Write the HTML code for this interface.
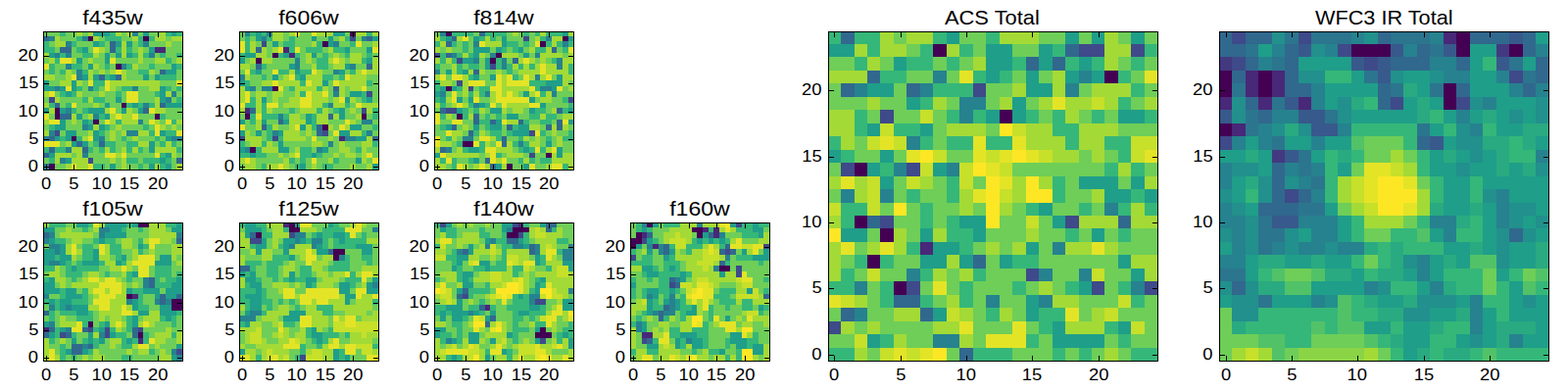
<!DOCTYPE html>
<html><head><meta charset="utf-8"><title>chart</title>
<style>html,body{margin:0;padding:0;background:#fff}svg{display:block}text{font-family:"Liberation Sans",sans-serif;fill:#000}</style>
</head><body><svg width="1600" height="400" viewBox="0 0 1600 400">
<rect width="1600" height="400" fill="#fff"/>
<clipPath id="c1"><rect x="44.5" y="32.5" width="142" height="141"/></clipPath><g clip-path="url(#c1)"><g transform="translate(44.2,30.95) scale(5.6760)" shape-rendering="crispEdges"><path fill="#440154" d="M8 1h1v1h-1zM18 1h1v1h-1zM13 6h1v1h-1zM14 13h1v1h-1zM2 14h1v1h-1zM2 15h1v1h-1zM20 15h1v1h-1zM9 16h1v1h-1zM5 19h1v1h-1zM1 24h1v1h-1z"/><path fill="#482878" d="M20 3h2v1h-2z"/><path fill="#3e4a89" d="M1 12h1v1h-1zM2 18h1v1h-1zM8 23h1v1h-1z"/><path fill="#31688e" d="M0 1h1v1h-1zM12 2h1v1h-1zM3 3h2v1h-2zM12 3h1v1h-1zM21 7h1v1h-1zM10 8h1v1h-1zM13 8h1v1h-1zM2 13h1v1h-1zM21 13h1v1h-1zM18 14h1v1h-1zM3 15h2v1h-2zM1 19h1v1h-1zM6 20h1v1h-1zM10 20h1v1h-1zM1 21h1v1h-1zM7 21h1v1h-1zM0 22h1v1h-1zM24 23h1v1h-1z"/><path fill="#26828e" d="M16 0h1v1h-1zM1 1h1v1h-1zM7 1h1v1h-1zM4 2h1v1h-1zM18 2h1v1h-1zM2 4h1v1h-1zM4 4h1v1h-1zM19 4h1v1h-1zM4 6h1v1h-1zM14 6h1v1h-1zM6 7h1v1h-1zM6 8h1v1h-1zM2 10h1v1h-1zM8 10h1v1h-1zM16 10h1v1h-1zM23 11h1v1h-1zM22 12h1v1h-1zM18 13h1v1h-1zM4 14h1v1h-1zM9 15h1v1h-1zM17 16h1v1h-1zM7 17h1v1h-1zM1 18h1v1h-1zM15 18h2v1h-2zM0 19h1v1h-1zM10 19h1v1h-1zM23 19h2v1h-2zM4 21h1v1h-1zM7 22h1v1h-1zM3 23h1v1h-1zM0 24h1v1h-1z"/><path fill="#1f9e89" d="M9 0h3v1h-3zM18 0h1v1h-1zM23 0h1v1h-1zM9 2h1v1h-1zM13 2h1v1h-1zM15 2h1v1h-1zM7 3h1v1h-1zM19 3h1v1h-1zM1 4h1v1h-1zM11 4h1v1h-1zM13 4h1v1h-1zM15 4h1v1h-1zM6 5h1v1h-1zM11 5h1v1h-1zM8 6h1v1h-1zM23 6h1v1h-1zM22 7h2v1h-2zM7 8h1v1h-1zM9 8h1v1h-1zM12 8h1v1h-1zM18 8h1v1h-1zM20 8h1v1h-1zM0 9h1v1h-1zM5 9h1v1h-1zM0 10h2v1h-2zM3 10h1v1h-1zM5 10h1v1h-1zM21 10h1v1h-1zM4 11h1v1h-1zM21 11h1v1h-1zM13 12h1v1h-1zM21 12h1v1h-1zM11 13h1v1h-1zM16 13h1v1h-1zM22 13h3v1h-3zM0 14h1v1h-1zM3 14h1v1h-1zM8 14h3v1h-3zM14 14h1v1h-1zM17 14h1v1h-1zM6 15h1v1h-1zM11 15h1v1h-1zM3 16h1v1h-1zM7 16h1v1h-1zM2 17h2v1h-2zM8 17h1v1h-1zM10 17h1v1h-1zM4 18h2v1h-2zM9 18h1v1h-1zM21 18h1v1h-1zM2 19h1v1h-1zM4 19h1v1h-1zM9 19h1v1h-1zM22 19h1v1h-1zM5 20h1v1h-1zM7 20h1v1h-1zM19 20h1v1h-1zM19 21h1v1h-1zM1 22h1v1h-1zM22 22h1v1h-1zM4 23h1v1h-1zM21 23h1v1h-1zM12 24h1v1h-1zM19 24h1v1h-1zM22 24h1v1h-1z"/><path fill="#35b779" d="M3 0h1v1h-1zM12 0h1v1h-1zM22 0h1v1h-1zM24 0h1v1h-1zM6 1h1v1h-1zM11 1h3v1h-3zM17 1h1v1h-1zM19 1h1v1h-1zM0 2h1v1h-1zM5 2h1v1h-1zM10 2h1v1h-1zM17 2h1v1h-1zM0 3h2v1h-2zM6 3h1v1h-1zM13 3h1v1h-1zM15 3h1v1h-1zM3 4h1v1h-1zM7 4h2v1h-2zM16 4h1v1h-1zM18 4h1v1h-1zM21 4h1v1h-1zM24 4h1v1h-1zM2 5h1v1h-1zM22 5h1v1h-1zM1 6h1v1h-1zM5 6h2v1h-2zM11 6h1v1h-1zM15 6h1v1h-1zM19 6h1v1h-1zM24 6h1v1h-1zM1 7h1v1h-1zM3 7h1v1h-1zM7 7h1v1h-1zM17 7h2v1h-2zM11 8h1v1h-1zM21 8h3v1h-3zM9 9h2v1h-2zM6 10h1v1h-1zM9 10h1v1h-1zM14 10h2v1h-2zM22 10h1v1h-1zM24 10h1v1h-1zM3 11h1v1h-1zM5 11h1v1h-1zM13 11h1v1h-1zM20 11h1v1h-1zM7 12h1v1h-1zM9 12h2v1h-2zM24 12h1v1h-1zM1 13h1v1h-1zM4 13h1v1h-1zM15 13h1v1h-1zM17 13h1v1h-1zM19 13h1v1h-1zM5 14h1v1h-1zM7 14h1v1h-1zM10 15h1v1h-1zM21 15h1v1h-1zM8 16h1v1h-1zM13 16h1v1h-1zM23 16h1v1h-1zM1 17h1v1h-1zM11 17h1v1h-1zM18 17h1v1h-1zM10 18h1v1h-1zM19 18h1v1h-1zM22 18h2v1h-2zM3 19h1v1h-1zM6 19h1v1h-1zM14 19h1v1h-1zM20 19h1v1h-1zM9 20h1v1h-1zM11 20h2v1h-2zM15 20h2v1h-2zM21 20h1v1h-1zM23 20h1v1h-1zM0 21h1v1h-1zM2 21h2v1h-2zM8 21h1v1h-1zM10 21h1v1h-1zM12 21h1v1h-1zM15 21h1v1h-1zM17 21h1v1h-1zM24 21h1v1h-1zM21 22h1v1h-1zM1 23h1v1h-1zM15 23h2v1h-2zM18 23h3v1h-3zM22 23h1v1h-1zM9 24h2v1h-2zM17 24h1v1h-1zM21 24h1v1h-1z"/><path fill="#6ece58" d="M0 0h3v1h-3zM4 0h2v1h-2zM7 0h1v1h-1zM14 0h1v1h-1zM17 0h1v1h-1zM19 0h2v1h-2zM3 1h3v1h-3zM10 1h1v1h-1zM14 1h2v1h-2zM22 1h1v1h-1zM1 2h1v1h-1zM6 2h3v1h-3zM11 2h1v1h-1zM16 2h1v1h-1zM19 2h3v1h-3zM23 2h2v1h-2zM2 3h1v1h-1zM5 3h1v1h-1zM8 3h1v1h-1zM11 3h1v1h-1zM16 3h1v1h-1zM18 3h1v1h-1zM22 3h3v1h-3zM5 4h2v1h-2zM10 4h1v1h-1zM12 4h1v1h-1zM20 4h1v1h-1zM22 4h2v1h-2zM0 5h1v1h-1zM7 5h1v1h-1zM9 5h2v1h-2zM13 5h4v1h-4zM18 5h2v1h-2zM23 5h1v1h-1zM2 6h2v1h-2zM7 6h1v1h-1zM10 6h1v1h-1zM12 6h1v1h-1zM17 6h2v1h-2zM20 6h3v1h-3zM0 7h1v1h-1zM2 7h1v1h-1zM5 7h1v1h-1zM9 7h1v1h-1zM11 7h1v1h-1zM15 7h2v1h-2zM20 7h1v1h-1zM24 7h1v1h-1zM2 8h2v1h-2zM15 8h3v1h-3zM19 8h1v1h-1zM24 8h1v1h-1zM1 9h2v1h-2zM7 9h1v1h-1zM21 9h3v1h-3zM7 10h1v1h-1zM10 10h1v1h-1zM13 10h1v1h-1zM17 10h2v1h-2zM23 10h1v1h-1zM2 11h1v1h-1zM7 11h3v1h-3zM11 11h2v1h-2zM14 11h1v1h-1zM17 11h3v1h-3zM24 11h1v1h-1zM0 12h1v1h-1zM3 12h4v1h-4zM11 12h2v1h-2zM14 12h1v1h-1zM17 12h3v1h-3zM23 12h1v1h-1zM3 13h1v1h-1zM6 13h3v1h-3zM10 13h1v1h-1zM12 13h2v1h-2zM6 14h1v1h-1zM13 14h1v1h-1zM16 14h1v1h-1zM22 14h3v1h-3zM1 15h1v1h-1zM7 15h1v1h-1zM17 15h3v1h-3zM22 15h3v1h-3zM4 16h1v1h-1zM6 16h1v1h-1zM10 16h1v1h-1zM18 16h1v1h-1zM21 16h1v1h-1zM0 17h1v1h-1zM4 17h3v1h-3zM12 17h1v1h-1zM14 17h4v1h-4zM19 17h1v1h-1zM22 17h1v1h-1zM24 17h1v1h-1zM3 18h1v1h-1zM6 18h2v1h-2zM11 18h1v1h-1zM13 18h1v1h-1zM11 19h1v1h-1zM13 19h1v1h-1zM15 19h1v1h-1zM17 19h3v1h-3zM21 19h1v1h-1zM3 20h1v1h-1zM8 20h1v1h-1zM13 20h2v1h-2zM20 20h1v1h-1zM24 20h1v1h-1zM9 21h1v1h-1zM13 21h1v1h-1zM18 21h1v1h-1zM5 22h1v1h-1zM8 22h3v1h-3zM15 22h5v1h-5zM24 22h1v1h-1zM0 23h1v1h-1zM9 23h3v1h-3zM13 23h1v1h-1zM17 23h1v1h-1zM23 23h1v1h-1zM2 24h2v1h-2zM11 24h1v1h-1zM13 24h1v1h-1zM15 24h2v1h-2zM18 24h1v1h-1zM23 24h1v1h-1z"/><path fill="#a3da36" d="M6 0h1v1h-1zM8 0h1v1h-1zM13 0h1v1h-1zM15 0h1v1h-1zM21 0h1v1h-1zM2 1h1v1h-1zM9 1h1v1h-1zM16 1h1v1h-1zM20 1h2v1h-2zM23 1h2v1h-2zM2 2h2v1h-2zM14 2h1v1h-1zM22 2h1v1h-1zM10 3h1v1h-1zM14 3h1v1h-1zM17 3h1v1h-1zM0 4h1v1h-1zM9 4h1v1h-1zM14 4h1v1h-1zM17 4h1v1h-1zM1 5h1v1h-1zM5 5h1v1h-1zM8 5h1v1h-1zM17 5h1v1h-1zM20 5h2v1h-2zM24 5h1v1h-1zM9 6h1v1h-1zM16 6h1v1h-1zM4 7h1v1h-1zM8 7h1v1h-1zM10 7h1v1h-1zM12 7h1v1h-1zM14 7h1v1h-1zM19 7h1v1h-1zM0 8h2v1h-2zM4 8h1v1h-1zM8 8h1v1h-1zM14 8h1v1h-1zM3 9h2v1h-2zM6 9h1v1h-1zM12 9h9v1h-9zM12 10h1v1h-1zM19 10h2v1h-2zM0 11h1v1h-1zM6 11h1v1h-1zM10 11h1v1h-1zM22 11h1v1h-1zM2 12h1v1h-1zM8 12h1v1h-1zM20 12h1v1h-1zM0 13h1v1h-1zM9 13h1v1h-1zM20 13h1v1h-1zM1 14h1v1h-1zM11 14h1v1h-1zM15 14h1v1h-1zM20 14h2v1h-2zM5 15h1v1h-1zM8 15h1v1h-1zM12 15h1v1h-1zM14 15h2v1h-2zM0 16h1v1h-1zM5 16h1v1h-1zM12 16h1v1h-1zM14 16h3v1h-3zM20 16h1v1h-1zM24 16h1v1h-1zM9 17h1v1h-1zM13 17h1v1h-1zM21 17h1v1h-1zM23 17h1v1h-1zM0 18h1v1h-1zM8 18h1v1h-1zM12 18h1v1h-1zM14 18h1v1h-1zM17 18h2v1h-2zM7 19h1v1h-1zM12 19h1v1h-1zM16 19h1v1h-1zM4 20h1v1h-1zM17 20h2v1h-2zM22 20h1v1h-1zM5 21h2v1h-2zM11 21h1v1h-1zM14 21h1v1h-1zM16 21h1v1h-1zM20 21h4v1h-4zM2 22h3v1h-3zM6 22h1v1h-1zM13 22h1v1h-1zM23 22h1v1h-1zM2 23h1v1h-1zM5 23h3v1h-3zM12 23h1v1h-1zM14 23h1v1h-1zM4 24h1v1h-1zM6 24h2v1h-2zM14 24h1v1h-1zM20 24h1v1h-1zM24 24h1v1h-1z"/><path fill="#e4e427" d="M9 3h1v1h-1zM3 5h2v1h-2zM12 5h1v1h-1zM0 6h1v1h-1zM13 7h1v1h-1zM5 8h1v1h-1zM8 9h1v1h-1zM11 9h1v1h-1zM24 9h1v1h-1zM4 10h1v1h-1zM11 10h1v1h-1zM1 11h1v1h-1zM15 11h2v1h-2zM15 12h2v1h-2zM5 13h1v1h-1zM12 14h1v1h-1zM19 14h1v1h-1zM0 15h1v1h-1zM13 15h1v1h-1zM16 15h1v1h-1zM1 16h2v1h-2zM11 16h1v1h-1zM19 16h1v1h-1zM22 16h1v1h-1zM20 17h1v1h-1zM20 18h1v1h-1zM24 18h1v1h-1zM8 19h1v1h-1zM0 20h3v1h-3zM11 22h2v1h-2zM14 22h1v1h-1zM20 22h1v1h-1zM5 24h1v1h-1zM8 24h1v1h-1z"/></g></g><path d="M47.5 173.5v-5.56M47.5 32.5v5.56M44.5 170.5h5.56M186.5 170.5h-5.56M75.5 173.5v-5.56M75.5 32.5v5.56M44.5 142.5h5.56M186.5 142.5h-5.56M104.5 173.5v-5.56M104.5 32.5v5.56M44.5 114.5h5.56M186.5 114.5h-5.56M132.5 173.5v-5.56M132.5 32.5v5.56M44.5 85.5h5.56M186.5 85.5h-5.56M161.5 173.5v-5.56M161.5 32.5v5.56M44.5 57.5h5.56M186.5 57.5h-5.56" stroke="#000" stroke-width="1" fill="none"/><rect x="44.5" y="32.5" width="142" height="141" fill="none" stroke="#000" stroke-width="1"/><text x="42.09" y="192.60" font-size="17.00" textLength="10.23" lengthAdjust="spacingAndGlyphs">0</text><text x="28.84" y="174.60" font-size="17.00" textLength="10.23" lengthAdjust="spacingAndGlyphs">0</text><text x="70.17" y="192.60" font-size="17.00" textLength="10.23" lengthAdjust="spacingAndGlyphs">5</text><text x="29.17" y="146.60" font-size="17.00" textLength="10.23" lengthAdjust="spacingAndGlyphs">5</text><text x="93.62" y="192.60" font-size="17.00" textLength="20.47" lengthAdjust="spacingAndGlyphs">10</text><text x="18.60" y="118.60" font-size="17.00" textLength="20.47" lengthAdjust="spacingAndGlyphs">10</text><text x="121.79" y="192.60" font-size="17.00" textLength="20.47" lengthAdjust="spacingAndGlyphs">15</text><text x="18.94" y="89.60" font-size="17.00" textLength="20.47" lengthAdjust="spacingAndGlyphs">15</text><text x="150.91" y="192.60" font-size="17.00" textLength="20.47" lengthAdjust="spacingAndGlyphs">20</text><text x="18.60" y="61.60" font-size="17.00" textLength="20.47" lengthAdjust="spacingAndGlyphs">20</text><text x="84.21" y="24.70" font-size="20.40" textLength="61.57" lengthAdjust="spacingAndGlyphs">f435w</text><clipPath id="c2"><rect x="244.5" y="32.5" width="142" height="141"/></clipPath><g clip-path="url(#c2)"><g transform="translate(243.87,30.95) scale(5.6760)" shape-rendering="crispEdges"><path fill="#440154" d="M20 0h1v1h-1zM15 2h1v1h-1zM6 4h1v1h-1zM3 5h1v1h-1zM6 10h1v1h-1zM1 15h1v1h-1zM22 15h1v1h-1zM15 17h1v1h-1zM2 21h1v1h-1z"/><path fill="#482878" d="M8 3h1v1h-1zM9 4h1v1h-1zM1 14h1v1h-1zM18 19h1v1h-1z"/><path fill="#3e4a89" d="M20 1h1v1h-1zM4 2h1v1h-1zM23 11h1v1h-1zM22 14h1v1h-1zM15 18h1v1h-1zM0 19h1v1h-1zM6 19h1v1h-1z"/><path fill="#31688e" d="M23 1h1v1h-1zM3 3h1v1h-1zM3 6h1v1h-1zM23 6h1v1h-1zM17 10h1v1h-1zM2 14h1v1h-1zM16 15h1v1h-1zM7 16h1v1h-1zM4 17h1v1h-1zM14 17h1v1h-1zM14 18h1v1h-1zM24 19h1v1h-1z"/><path fill="#26828e" d="M1 0h1v1h-1zM5 0h1v1h-1zM4 1h1v1h-1zM22 1h1v1h-1zM17 2h1v1h-1zM10 5h1v1h-1zM10 6h1v1h-1zM20 6h1v1h-1zM17 7h1v1h-1zM0 8h1v1h-1zM2 10h1v1h-1zM4 10h2v1h-2zM17 11h1v1h-1zM16 13h1v1h-1zM7 15h1v1h-1zM22 16h2v1h-2zM6 18h1v1h-1zM23 18h1v1h-1zM19 19h2v1h-2zM16 20h1v1h-1zM1 21h1v1h-1zM14 21h1v1h-1z"/><path fill="#1f9e89" d="M3 0h1v1h-1zM17 0h2v1h-2zM3 1h1v1h-1zM13 1h1v1h-1zM16 1h1v1h-1zM24 1h1v1h-1zM6 2h1v1h-1zM16 2h1v1h-1zM19 3h1v1h-1zM23 3h1v1h-1zM1 4h2v1h-2zM8 4h1v1h-1zM13 4h1v1h-1zM0 5h1v1h-1zM23 5h1v1h-1zM9 6h1v1h-1zM19 6h1v1h-1zM3 7h1v1h-1zM10 7h1v1h-1zM18 7h1v1h-1zM6 8h1v1h-1zM11 8h1v1h-1zM0 9h1v1h-1zM15 9h1v1h-1zM1 10h1v1h-1zM20 11h2v1h-2zM4 12h1v1h-1zM19 12h1v1h-1zM23 12h1v1h-1zM18 14h1v1h-1zM12 15h1v1h-1zM18 15h1v1h-1zM0 16h1v1h-1zM4 16h1v1h-1zM8 16h1v1h-1zM12 16h1v1h-1zM11 17h1v1h-1zM20 17h2v1h-2zM0 18h1v1h-1zM3 18h1v1h-1zM7 18h1v1h-1zM18 18h2v1h-2zM21 19h2v1h-2zM7 20h1v1h-1zM0 21h1v1h-1zM7 21h2v1h-2zM15 21h1v1h-1zM2 22h1v1h-1zM13 22h1v1h-1zM21 23h1v1h-1zM11 24h1v1h-1zM24 24h1v1h-1z"/><path fill="#35b779" d="M2 0h1v1h-1zM4 0h1v1h-1zM23 0h1v1h-1zM1 1h1v1h-1zM5 1h1v1h-1zM9 1h1v1h-1zM19 1h1v1h-1zM1 2h1v1h-1zM8 2h2v1h-2zM14 2h1v1h-1zM20 2h1v1h-1zM1 3h1v1h-1zM9 3h1v1h-1zM12 3h3v1h-3zM17 3h2v1h-2zM0 4h1v1h-1zM7 4h1v1h-1zM10 4h1v1h-1zM15 4h1v1h-1zM19 4h1v1h-1zM23 4h1v1h-1zM14 5h2v1h-2zM22 5h1v1h-1zM4 6h1v1h-1zM14 6h2v1h-2zM2 7h1v1h-1zM7 7h2v1h-2zM11 7h2v1h-2zM20 7h1v1h-1zM4 8h1v1h-1zM10 8h1v1h-1zM15 8h2v1h-2zM18 8h1v1h-1zM1 9h1v1h-1zM11 9h1v1h-1zM23 9h1v1h-1zM9 10h1v1h-1zM14 10h1v1h-1zM11 11h1v1h-1zM22 11h1v1h-1zM2 12h1v1h-1zM22 12h1v1h-1zM1 13h2v1h-2zM4 13h1v1h-1zM15 13h1v1h-1zM19 13h1v1h-1zM4 14h1v1h-1zM9 14h1v1h-1zM14 14h1v1h-1zM17 14h1v1h-1zM24 14h1v1h-1zM2 15h1v1h-1zM4 15h3v1h-3zM8 15h1v1h-1zM13 15h1v1h-1zM24 15h1v1h-1zM2 16h1v1h-1zM13 16h1v1h-1zM5 17h1v1h-1zM13 17h1v1h-1zM24 17h1v1h-1zM5 18h1v1h-1zM22 18h1v1h-1zM5 19h1v1h-1zM7 19h1v1h-1zM0 20h1v1h-1zM4 20h1v1h-1zM24 20h1v1h-1zM3 21h1v1h-1zM11 21h2v1h-2zM21 21h1v1h-1zM0 22h2v1h-2zM3 22h2v1h-2zM11 22h2v1h-2zM14 22h1v1h-1zM9 23h1v1h-1zM11 23h1v1h-1zM17 23h1v1h-1zM4 24h1v1h-1zM10 24h1v1h-1zM15 24h2v1h-2z"/><path fill="#6ece58" d="M0 0h1v1h-1zM8 0h1v1h-1zM11 0h2v1h-2zM19 0h1v1h-1zM0 1h1v1h-1zM2 1h1v1h-1zM8 1h1v1h-1zM10 1h3v1h-3zM14 1h2v1h-2zM17 1h1v1h-1zM21 1h1v1h-1zM3 2h1v1h-1zM5 2h1v1h-1zM7 2h1v1h-1zM10 2h3v1h-3zM18 2h2v1h-2zM22 2h2v1h-2zM5 3h1v1h-1zM11 3h1v1h-1zM15 3h1v1h-1zM20 3h3v1h-3zM5 4h1v1h-1zM11 4h1v1h-1zM14 4h1v1h-1zM16 4h1v1h-1zM18 4h1v1h-1zM22 4h1v1h-1zM24 4h1v1h-1zM1 5h1v1h-1zM6 5h4v1h-4zM11 5h1v1h-1zM13 5h1v1h-1zM19 5h1v1h-1zM2 6h1v1h-1zM5 6h4v1h-4zM11 6h2v1h-2zM16 6h1v1h-1zM21 6h2v1h-2zM0 7h1v1h-1zM4 7h2v1h-2zM15 7h2v1h-2zM19 7h1v1h-1zM2 8h2v1h-2zM5 8h1v1h-1zM7 8h1v1h-1zM17 8h1v1h-1zM23 8h2v1h-2zM2 9h2v1h-2zM16 9h1v1h-1zM24 9h1v1h-1zM3 10h1v1h-1zM8 10h1v1h-1zM16 10h1v1h-1zM19 10h1v1h-1zM23 10h2v1h-2zM2 11h1v1h-1zM5 11h1v1h-1zM8 11h2v1h-2zM16 11h1v1h-1zM19 11h1v1h-1zM24 11h1v1h-1zM5 12h1v1h-1zM7 12h2v1h-2zM16 12h1v1h-1zM21 12h1v1h-1zM24 12h1v1h-1zM7 13h1v1h-1zM20 13h1v1h-1zM6 14h3v1h-3zM10 14h1v1h-1zM16 14h1v1h-1zM19 14h1v1h-1zM21 14h1v1h-1zM0 15h1v1h-1zM11 15h1v1h-1zM19 15h2v1h-2zM23 15h1v1h-1zM1 16h1v1h-1zM5 16h2v1h-2zM16 16h3v1h-3zM21 16h1v1h-1zM24 16h1v1h-1zM1 17h2v1h-2zM7 17h2v1h-2zM17 17h1v1h-1zM22 17h2v1h-2zM2 18h1v1h-1zM4 18h1v1h-1zM11 18h1v1h-1zM13 18h1v1h-1zM16 18h1v1h-1zM24 18h1v1h-1zM4 19h1v1h-1zM12 19h1v1h-1zM14 19h2v1h-2zM17 19h1v1h-1zM1 20h1v1h-1zM6 20h1v1h-1zM8 20h5v1h-5zM15 20h1v1h-1zM17 20h1v1h-1zM19 20h3v1h-3zM9 21h1v1h-1zM13 21h1v1h-1zM16 21h2v1h-2zM20 21h1v1h-1zM23 21h2v1h-2zM5 22h2v1h-2zM8 22h1v1h-1zM15 22h2v1h-2zM18 22h1v1h-1zM21 22h1v1h-1zM24 22h1v1h-1zM3 23h5v1h-5zM10 23h1v1h-1zM12 23h1v1h-1zM14 23h2v1h-2zM18 23h3v1h-3zM23 23h1v1h-1zM0 24h1v1h-1zM3 24h1v1h-1zM9 24h1v1h-1zM12 24h1v1h-1zM14 24h1v1h-1zM17 24h3v1h-3zM21 24h2v1h-2z"/><path fill="#a3da36" d="M6 0h2v1h-2zM9 0h1v1h-1zM14 0h3v1h-3zM21 0h2v1h-2zM24 0h1v1h-1zM6 1h2v1h-2zM18 1h1v1h-1zM2 2h1v1h-1zM13 2h1v1h-1zM24 2h1v1h-1zM2 3h1v1h-1zM4 3h1v1h-1zM6 3h1v1h-1zM16 3h1v1h-1zM3 4h2v1h-2zM12 4h1v1h-1zM17 4h1v1h-1zM20 4h2v1h-2zM2 5h1v1h-1zM4 5h2v1h-2zM12 5h1v1h-1zM16 5h1v1h-1zM18 5h1v1h-1zM20 5h2v1h-2zM24 5h1v1h-1zM0 6h2v1h-2zM13 6h1v1h-1zM17 6h2v1h-2zM24 6h1v1h-1zM9 7h1v1h-1zM14 7h1v1h-1zM21 7h1v1h-1zM23 7h2v1h-2zM1 8h1v1h-1zM8 8h1v1h-1zM12 8h3v1h-3zM20 8h3v1h-3zM4 9h2v1h-2zM7 9h4v1h-4zM13 9h2v1h-2zM18 9h5v1h-5zM0 10h1v1h-1zM10 10h4v1h-4zM15 10h1v1h-1zM18 10h1v1h-1zM20 10h2v1h-2zM0 11h1v1h-1zM3 11h2v1h-2zM6 11h2v1h-2zM10 11h1v1h-1zM13 11h2v1h-2zM18 11h1v1h-1zM0 12h1v1h-1zM3 12h1v1h-1zM6 12h1v1h-1zM9 12h2v1h-2zM13 12h3v1h-3zM17 12h1v1h-1zM20 12h1v1h-1zM3 13h1v1h-1zM8 13h3v1h-3zM13 13h2v1h-2zM17 13h2v1h-2zM22 13h3v1h-3zM0 14h1v1h-1zM3 14h1v1h-1zM5 14h1v1h-1zM11 14h3v1h-3zM15 14h1v1h-1zM20 14h1v1h-1zM23 14h1v1h-1zM9 15h2v1h-2zM14 15h2v1h-2zM17 15h1v1h-1zM21 15h1v1h-1zM3 16h1v1h-1zM9 16h3v1h-3zM14 16h2v1h-2zM20 16h1v1h-1zM3 17h1v1h-1zM6 17h1v1h-1zM9 17h1v1h-1zM12 17h1v1h-1zM16 17h1v1h-1zM19 17h1v1h-1zM1 18h1v1h-1zM8 18h3v1h-3zM12 18h1v1h-1zM20 18h2v1h-2zM1 19h3v1h-3zM8 19h4v1h-4zM16 19h1v1h-1zM23 19h1v1h-1zM2 20h2v1h-2zM5 20h1v1h-1zM13 20h2v1h-2zM18 20h1v1h-1zM22 20h2v1h-2zM4 21h3v1h-3zM10 21h1v1h-1zM18 21h2v1h-2zM22 21h1v1h-1zM7 22h1v1h-1zM9 22h1v1h-1zM17 22h1v1h-1zM19 22h2v1h-2zM22 22h1v1h-1zM0 23h1v1h-1zM2 23h1v1h-1zM8 23h1v1h-1zM16 23h1v1h-1zM22 23h1v1h-1zM1 24h2v1h-2zM5 24h2v1h-2zM8 24h1v1h-1zM13 24h1v1h-1zM20 24h1v1h-1zM23 24h1v1h-1z"/><path fill="#e4e427" d="M10 0h1v1h-1zM13 0h1v1h-1zM0 2h1v1h-1zM21 2h1v1h-1zM0 3h1v1h-1zM7 3h1v1h-1zM10 3h1v1h-1zM24 3h1v1h-1zM17 5h1v1h-1zM1 7h1v1h-1zM6 7h1v1h-1zM13 7h1v1h-1zM22 7h1v1h-1zM9 8h1v1h-1zM19 8h1v1h-1zM6 9h1v1h-1zM12 9h1v1h-1zM17 9h1v1h-1zM7 10h1v1h-1zM22 10h1v1h-1zM1 11h1v1h-1zM12 11h1v1h-1zM15 11h1v1h-1zM1 12h1v1h-1zM11 12h2v1h-2zM18 12h1v1h-1zM0 13h1v1h-1zM5 13h2v1h-2zM11 13h2v1h-2zM21 13h1v1h-1zM3 15h1v1h-1zM19 16h1v1h-1zM0 17h1v1h-1zM10 17h1v1h-1zM18 17h1v1h-1zM17 18h1v1h-1zM13 19h1v1h-1zM10 22h1v1h-1zM23 22h1v1h-1zM1 23h1v1h-1zM13 23h1v1h-1zM24 23h1v1h-1zM7 24h1v1h-1z"/></g></g><path d="M247.5 173.5v-5.56M247.5 32.5v5.56M244.5 170.5h5.56M386.5 170.5h-5.56M275.5 173.5v-5.56M275.5 32.5v5.56M244.5 142.5h5.56M386.5 142.5h-5.56M303.5 173.5v-5.56M303.5 32.5v5.56M244.5 114.5h5.56M386.5 114.5h-5.56M332.5 173.5v-5.56M332.5 32.5v5.56M244.5 85.5h5.56M386.5 85.5h-5.56M360.5 173.5v-5.56M360.5 32.5v5.56M244.5 57.5h5.56M386.5 57.5h-5.56" stroke="#000" stroke-width="1" fill="none"/><rect x="244.5" y="32.5" width="142" height="141" fill="none" stroke="#000" stroke-width="1"/><text x="242.09" y="192.60" font-size="17.00" textLength="10.23" lengthAdjust="spacingAndGlyphs">0</text><text x="228.84" y="174.60" font-size="17.00" textLength="10.23" lengthAdjust="spacingAndGlyphs">0</text><text x="270.17" y="192.60" font-size="17.00" textLength="10.23" lengthAdjust="spacingAndGlyphs">5</text><text x="229.17" y="146.60" font-size="17.00" textLength="10.23" lengthAdjust="spacingAndGlyphs">5</text><text x="292.62" y="192.60" font-size="17.00" textLength="20.47" lengthAdjust="spacingAndGlyphs">10</text><text x="218.60" y="118.60" font-size="17.00" textLength="20.47" lengthAdjust="spacingAndGlyphs">10</text><text x="321.79" y="192.60" font-size="17.00" textLength="20.47" lengthAdjust="spacingAndGlyphs">15</text><text x="218.94" y="89.60" font-size="17.00" textLength="20.47" lengthAdjust="spacingAndGlyphs">15</text><text x="349.91" y="192.60" font-size="17.00" textLength="20.47" lengthAdjust="spacingAndGlyphs">20</text><text x="218.60" y="61.60" font-size="17.00" textLength="20.47" lengthAdjust="spacingAndGlyphs">20</text><text x="284.21" y="24.70" font-size="20.40" textLength="61.57" lengthAdjust="spacingAndGlyphs">f606w</text><clipPath id="c3"><rect x="443.5" y="32.5" width="142" height="141"/></clipPath><g clip-path="url(#c3)"><g transform="translate(443.53999999999996,30.95) scale(5.6760)" shape-rendering="crispEdges"><path fill="#440154" d="M2 0h1v1h-1zM23 1h1v1h-1zM19 2h1v1h-1zM11 4h1v1h-1zM10 5h1v1h-1zM2 10h1v1h-1zM4 15h1v1h-1zM5 20h2v1h-2zM20 22h1v1h-1zM13 24h1v1h-1z"/><path fill="#3e4a89" d="M16 1h1v1h-1zM0 4h1v1h-1zM4 5h1v1h-1zM10 6h1v1h-1zM4 9h1v1h-1zM6 10h1v1h-1zM24 12h1v1h-1zM2 14h2v1h-2zM17 18h1v1h-1zM17 22h1v1h-1z"/><path fill="#31688e" d="M8 0h1v1h-1zM3 1h1v1h-1zM2 2h1v1h-1zM21 3h1v1h-1zM2 4h1v1h-1zM14 5h1v1h-1zM7 7h1v1h-1zM1 14h1v1h-1zM22 14h1v1h-1zM7 15h1v1h-1zM7 16h1v1h-1zM10 16h1v1h-1zM15 16h1v1h-1zM22 16h1v1h-1zM3 17h1v1h-1zM13 17h1v1h-1zM20 17h1v1h-1zM22 17h1v1h-1zM6 18h1v1h-1zM12 19h1v1h-1zM12 20h1v1h-1zM1 21h1v1h-1zM9 23h1v1h-1zM10 24h1v1h-1z"/><path fill="#26828e" d="M1 0h1v1h-1zM20 1h1v1h-1zM7 2h1v1h-1zM23 2h1v1h-1zM3 4h1v1h-1zM10 4h1v1h-1zM18 4h1v1h-1zM7 5h1v1h-1zM12 5h1v1h-1zM22 5h1v1h-1zM12 6h1v1h-1zM22 6h1v1h-1zM0 7h1v1h-1zM18 8h1v1h-1zM19 10h2v1h-2zM1 11h1v1h-1zM9 11h1v1h-1zM21 11h1v1h-1zM7 13h1v1h-1zM5 19h2v1h-2zM15 20h1v1h-1zM2 21h1v1h-1z"/><path fill="#1f9e89" d="M23 0h1v1h-1zM2 1h1v1h-1zM7 1h1v1h-1zM12 1h1v1h-1zM24 1h1v1h-1zM12 2h1v1h-1zM7 3h3v1h-3zM11 3h1v1h-1zM15 3h1v1h-1zM7 4h1v1h-1zM16 4h1v1h-1zM5 5h2v1h-2zM9 5h1v1h-1zM9 6h1v1h-1zM2 7h1v1h-1zM5 7h1v1h-1zM7 8h1v1h-1zM10 8h1v1h-1zM22 8h1v1h-1zM20 9h3v1h-3zM1 10h1v1h-1zM3 10h1v1h-1zM21 10h1v1h-1zM0 11h1v1h-1zM16 11h1v1h-1zM1 12h1v1h-1zM4 12h1v1h-1zM6 12h1v1h-1zM17 12h1v1h-1zM8 13h1v1h-1zM19 13h1v1h-1zM4 14h1v1h-1zM10 14h2v1h-2zM17 14h1v1h-1zM24 14h1v1h-1zM13 15h2v1h-2zM11 16h1v1h-1zM24 16h1v1h-1zM2 17h1v1h-1zM7 17h1v1h-1zM10 17h2v1h-2zM15 17h2v1h-2zM14 18h3v1h-3zM20 20h1v1h-1zM6 21h2v1h-2zM16 21h1v1h-1zM22 21h1v1h-1zM0 22h1v1h-1zM22 22h1v1h-1zM7 23h1v1h-1zM11 24h1v1h-1zM16 24h1v1h-1z"/><path fill="#35b779" d="M3 0h4v1h-4zM9 0h4v1h-4zM16 0h1v1h-1zM18 0h1v1h-1zM20 0h3v1h-3zM1 1h1v1h-1zM8 1h1v1h-1zM10 1h1v1h-1zM19 1h1v1h-1zM0 2h1v1h-1zM3 2h1v1h-1zM5 2h1v1h-1zM13 2h2v1h-2zM16 2h1v1h-1zM20 2h1v1h-1zM22 2h1v1h-1zM24 2h1v1h-1zM5 3h1v1h-1zM12 3h1v1h-1zM14 3h1v1h-1zM18 3h2v1h-2zM23 3h1v1h-1zM1 4h1v1h-1zM4 4h1v1h-1zM6 4h1v1h-1zM1 5h1v1h-1zM3 5h1v1h-1zM11 5h1v1h-1zM21 5h1v1h-1zM0 6h1v1h-1zM4 6h1v1h-1zM6 6h2v1h-2zM11 6h1v1h-1zM13 6h1v1h-1zM15 6h1v1h-1zM17 6h1v1h-1zM24 6h1v1h-1zM4 7h1v1h-1zM13 7h1v1h-1zM24 7h1v1h-1zM6 8h1v1h-1zM14 8h1v1h-1zM0 9h1v1h-1zM17 9h3v1h-3zM0 10h1v1h-1zM4 10h1v1h-1zM8 10h2v1h-2zM18 10h1v1h-1zM6 11h1v1h-1zM8 11h1v1h-1zM19 11h1v1h-1zM0 12h1v1h-1zM23 12h1v1h-1zM1 13h1v1h-1zM6 13h1v1h-1zM9 13h1v1h-1zM24 13h1v1h-1zM5 14h1v1h-1zM7 14h1v1h-1zM18 14h2v1h-2zM23 14h1v1h-1zM1 15h1v1h-1zM5 15h1v1h-1zM9 15h1v1h-1zM11 15h1v1h-1zM17 15h2v1h-2zM20 15h2v1h-2zM8 16h2v1h-2zM16 16h1v1h-1zM19 16h2v1h-2zM1 17h1v1h-1zM9 17h1v1h-1zM14 17h1v1h-1zM7 18h1v1h-1zM10 18h2v1h-2zM13 18h1v1h-1zM19 18h1v1h-1zM24 18h1v1h-1zM2 19h1v1h-1zM11 19h1v1h-1zM15 19h1v1h-1zM20 19h1v1h-1zM23 19h2v1h-2zM4 20h1v1h-1zM8 20h1v1h-1zM14 20h1v1h-1zM16 20h1v1h-1zM5 21h1v1h-1zM8 21h1v1h-1zM15 21h1v1h-1zM17 21h1v1h-1zM19 21h1v1h-1zM11 22h1v1h-1zM1 23h1v1h-1zM3 23h1v1h-1zM6 23h1v1h-1zM15 23h1v1h-1zM17 23h1v1h-1zM19 23h2v1h-2zM3 24h1v1h-1zM23 24h1v1h-1z"/><path fill="#6ece58" d="M0 0h1v1h-1zM7 0h1v1h-1zM13 0h1v1h-1zM15 0h1v1h-1zM17 0h1v1h-1zM6 1h1v1h-1zM11 1h1v1h-1zM13 1h3v1h-3zM17 1h1v1h-1zM4 2h1v1h-1zM6 2h1v1h-1zM15 2h1v1h-1zM17 2h1v1h-1zM1 3h1v1h-1zM3 3h2v1h-2zM6 3h1v1h-1zM10 3h1v1h-1zM13 3h1v1h-1zM16 3h1v1h-1zM22 3h1v1h-1zM9 4h1v1h-1zM15 4h1v1h-1zM17 4h1v1h-1zM23 4h1v1h-1zM8 5h1v1h-1zM13 5h1v1h-1zM18 5h1v1h-1zM20 5h1v1h-1zM1 6h2v1h-2zM5 6h1v1h-1zM8 6h1v1h-1zM1 7h1v1h-1zM9 7h2v1h-2zM12 7h1v1h-1zM14 7h1v1h-1zM2 8h1v1h-1zM8 8h2v1h-2zM15 8h1v1h-1zM21 8h1v1h-1zM3 9h1v1h-1zM9 9h2v1h-2zM24 9h1v1h-1zM7 10h1v1h-1zM23 10h1v1h-1zM2 11h1v1h-1zM4 11h1v1h-1zM15 11h1v1h-1zM22 11h3v1h-3zM5 12h1v1h-1zM8 12h2v1h-2zM18 12h1v1h-1zM21 12h2v1h-2zM2 13h1v1h-1zM11 13h1v1h-1zM20 13h4v1h-4zM0 14h1v1h-1zM6 14h1v1h-1zM9 14h1v1h-1zM13 14h1v1h-1zM16 14h1v1h-1zM20 14h1v1h-1zM3 15h1v1h-1zM8 15h1v1h-1zM10 15h1v1h-1zM12 15h1v1h-1zM15 15h2v1h-2zM22 15h1v1h-1zM1 16h2v1h-2zM5 16h2v1h-2zM17 16h2v1h-2zM21 16h1v1h-1zM0 17h1v1h-1zM4 17h1v1h-1zM6 17h1v1h-1zM8 17h1v1h-1zM12 17h1v1h-1zM19 17h1v1h-1zM24 17h1v1h-1zM0 18h2v1h-2zM5 18h1v1h-1zM9 18h1v1h-1zM12 18h1v1h-1zM20 18h1v1h-1zM22 18h2v1h-2zM1 19h1v1h-1zM4 19h1v1h-1zM7 19h1v1h-1zM13 19h2v1h-2zM17 19h1v1h-1zM19 19h1v1h-1zM21 19h1v1h-1zM3 20h1v1h-1zM10 20h1v1h-1zM19 20h1v1h-1zM21 20h1v1h-1zM23 20h2v1h-2zM3 21h1v1h-1zM14 21h1v1h-1zM23 21h2v1h-2zM8 22h1v1h-1zM12 22h1v1h-1zM16 22h1v1h-1zM18 22h2v1h-2zM4 23h2v1h-2zM8 23h1v1h-1zM13 23h2v1h-2zM18 23h1v1h-1zM2 24h1v1h-1zM6 24h1v1h-1zM14 24h2v1h-2zM18 24h2v1h-2z"/><path fill="#a3da36" d="M14 0h1v1h-1zM19 0h1v1h-1zM24 0h1v1h-1zM0 1h1v1h-1zM4 1h1v1h-1zM9 1h1v1h-1zM18 1h1v1h-1zM21 1h2v1h-2zM1 2h1v1h-1zM9 2h3v1h-3zM21 2h1v1h-1zM0 3h1v1h-1zM2 3h1v1h-1zM17 3h1v1h-1zM20 3h1v1h-1zM5 4h1v1h-1zM8 4h1v1h-1zM12 4h3v1h-3zM19 4h4v1h-4zM24 4h1v1h-1zM0 5h1v1h-1zM2 5h1v1h-1zM15 5h1v1h-1zM17 5h1v1h-1zM19 5h1v1h-1zM23 5h2v1h-2zM3 6h1v1h-1zM14 6h1v1h-1zM16 6h1v1h-1zM18 6h1v1h-1zM20 6h2v1h-2zM23 6h1v1h-1zM3 7h1v1h-1zM6 7h1v1h-1zM8 7h1v1h-1zM11 7h1v1h-1zM15 7h4v1h-4zM20 7h4v1h-4zM0 8h1v1h-1zM5 8h1v1h-1zM12 8h1v1h-1zM17 8h1v1h-1zM19 8h1v1h-1zM23 8h2v1h-2zM1 9h2v1h-2zM5 9h1v1h-1zM12 9h1v1h-1zM23 9h1v1h-1zM5 10h1v1h-1zM12 10h5v1h-5zM24 10h1v1h-1zM5 11h1v1h-1zM7 11h1v1h-1zM10 11h1v1h-1zM12 11h1v1h-1zM14 11h1v1h-1zM17 11h1v1h-1zM20 11h1v1h-1zM2 12h1v1h-1zM10 12h1v1h-1zM19 12h2v1h-2zM0 13h1v1h-1zM3 13h1v1h-1zM5 13h1v1h-1zM13 13h4v1h-4zM8 14h1v1h-1zM12 14h1v1h-1zM14 14h2v1h-2zM21 14h1v1h-1zM2 15h1v1h-1zM6 15h1v1h-1zM19 15h1v1h-1zM23 15h2v1h-2zM13 16h2v1h-2zM5 17h1v1h-1zM17 17h2v1h-2zM21 17h1v1h-1zM23 17h1v1h-1zM3 18h2v1h-2zM8 18h1v1h-1zM21 18h1v1h-1zM3 19h1v1h-1zM10 19h1v1h-1zM16 19h1v1h-1zM18 19h1v1h-1zM22 19h1v1h-1zM1 20h2v1h-2zM9 20h1v1h-1zM13 20h1v1h-1zM17 20h2v1h-2zM22 20h1v1h-1zM0 21h1v1h-1zM4 21h1v1h-1zM11 21h3v1h-3zM20 21h1v1h-1zM2 22h6v1h-6zM9 22h1v1h-1zM13 22h3v1h-3zM21 22h1v1h-1zM23 22h2v1h-2zM0 23h1v1h-1zM11 23h1v1h-1zM16 23h1v1h-1zM21 23h4v1h-4zM0 24h2v1h-2zM5 24h1v1h-1zM7 24h1v1h-1zM9 24h1v1h-1zM12 24h1v1h-1zM20 24h1v1h-1zM24 24h1v1h-1z"/><path fill="#e4e427" d="M5 1h1v1h-1zM8 2h1v1h-1zM18 2h1v1h-1zM24 3h1v1h-1zM16 5h1v1h-1zM19 6h1v1h-1zM19 7h1v1h-1zM1 8h1v1h-1zM3 8h2v1h-2zM11 8h1v1h-1zM13 8h1v1h-1zM16 8h1v1h-1zM20 8h1v1h-1zM6 9h3v1h-3zM11 9h1v1h-1zM13 9h4v1h-4zM10 10h2v1h-2zM17 10h1v1h-1zM22 10h1v1h-1zM3 11h1v1h-1zM11 11h1v1h-1zM13 11h1v1h-1zM18 11h1v1h-1zM3 12h1v1h-1zM7 12h1v1h-1zM11 12h6v1h-6zM4 13h1v1h-1zM10 13h1v1h-1zM12 13h1v1h-1zM17 13h2v1h-2zM0 15h1v1h-1zM0 16h1v1h-1zM3 16h2v1h-2zM12 16h1v1h-1zM23 16h1v1h-1zM2 18h1v1h-1zM18 18h1v1h-1zM0 19h1v1h-1zM8 19h2v1h-2zM0 20h1v1h-1zM7 20h1v1h-1zM11 20h1v1h-1zM9 21h2v1h-2zM18 21h1v1h-1zM21 21h1v1h-1zM1 22h1v1h-1zM10 22h1v1h-1zM2 23h1v1h-1zM10 23h1v1h-1zM12 23h1v1h-1zM4 24h1v1h-1zM8 24h1v1h-1zM17 24h1v1h-1zM21 24h2v1h-2z"/></g></g><path d="M446.5 173.5v-5.56M446.5 32.5v5.56M443.5 170.5h5.56M585.5 170.5h-5.56M475.5 173.5v-5.56M475.5 32.5v5.56M443.5 142.5h5.56M585.5 142.5h-5.56M503.5 173.5v-5.56M503.5 32.5v5.56M443.5 114.5h5.56M585.5 114.5h-5.56M532.5 173.5v-5.56M532.5 32.5v5.56M443.5 85.5h5.56M585.5 85.5h-5.56M560.5 173.5v-5.56M560.5 32.5v5.56M443.5 57.5h5.56M585.5 57.5h-5.56" stroke="#000" stroke-width="1" fill="none"/><rect x="443.5" y="32.5" width="142" height="141" fill="none" stroke="#000" stroke-width="1"/><text x="441.09" y="192.60" font-size="17.00" textLength="10.23" lengthAdjust="spacingAndGlyphs">0</text><text x="427.84" y="174.60" font-size="17.00" textLength="10.23" lengthAdjust="spacingAndGlyphs">0</text><text x="470.17" y="192.60" font-size="17.00" textLength="10.23" lengthAdjust="spacingAndGlyphs">5</text><text x="428.17" y="146.60" font-size="17.00" textLength="10.23" lengthAdjust="spacingAndGlyphs">5</text><text x="492.62" y="192.60" font-size="17.00" textLength="20.47" lengthAdjust="spacingAndGlyphs">10</text><text x="417.60" y="118.60" font-size="17.00" textLength="20.47" lengthAdjust="spacingAndGlyphs">10</text><text x="521.79" y="192.60" font-size="17.00" textLength="20.47" lengthAdjust="spacingAndGlyphs">15</text><text x="417.94" y="89.60" font-size="17.00" textLength="20.47" lengthAdjust="spacingAndGlyphs">15</text><text x="549.91" y="192.60" font-size="17.00" textLength="20.47" lengthAdjust="spacingAndGlyphs">20</text><text x="417.60" y="61.60" font-size="17.00" textLength="20.47" lengthAdjust="spacingAndGlyphs">20</text><text x="483.21" y="24.70" font-size="20.40" textLength="61.57" lengthAdjust="spacingAndGlyphs">f814w</text><clipPath id="c4"><rect x="44.5" y="227.5" width="142" height="141"/></clipPath><g clip-path="url(#c4)"><g transform="translate(44.2,225.95) scale(5.6760)" shape-rendering="crispEdges"><path fill="#440154" d="M17 0h2v1h-2zM15 13h1v1h-1zM23 14h2v1h-2zM23 15h2v1h-2zM8 18h1v1h-1zM17 20h1v1h-1z"/><path fill="#482878" d="M16 13h1v1h-1zM0 19h1v1h-1zM17 21h1v1h-1z"/><path fill="#3e4a89" d="M8 19h1v1h-1zM11 19h1v1h-1zM17 19h1v1h-1zM3 20h1v1h-1zM11 20h1v1h-1zM24 23h1v1h-1z"/><path fill="#31688e" d="M0 2h1v1h-1zM24 3h1v1h-1zM19 10h1v1h-1zM19 11h1v1h-1zM21 13h1v1h-1zM24 13h1v1h-1zM21 14h1v1h-1zM0 16h1v1h-1zM1 19h1v1h-1zM7 19h1v1h-1zM16 19h1v1h-1zM0 20h1v1h-1zM4 20h1v1h-1zM16 20h1v1h-1zM5 22h2v1h-2zM8 22h1v1h-1zM5 23h2v1h-2z"/><path fill="#26828e" d="M10 1h2v1h-2zM1 2h1v1h-1zM10 2h1v1h-1zM24 2h1v1h-1zM0 3h1v1h-1zM1 4h2v1h-2zM2 5h1v1h-1zM1 7h2v1h-2zM18 10h1v1h-1zM18 11h1v1h-1zM0 13h1v1h-1zM15 14h1v1h-1zM20 14h1v1h-1zM22 14h1v1h-1zM1 15h1v1h-1zM4 15h1v1h-1zM1 18h1v1h-1zM4 19h1v1h-1zM10 20h1v1h-1zM7 22h1v1h-1zM23 23h1v1h-1zM24 24h1v1h-1z"/><path fill="#1f9e89" d="M6 0h2v1h-2zM11 0h4v1h-4zM16 0h1v1h-1zM24 0h1v1h-1zM0 1h2v1h-2zM12 1h2v1h-2zM23 1h2v1h-2zM11 2h4v1h-4zM1 3h1v1h-1zM10 3h1v1h-1zM3 4h1v1h-1zM17 4h1v1h-1zM0 5h2v1h-2zM3 5h1v1h-1zM9 5h1v1h-1zM0 6h2v1h-2zM3 6h2v1h-2zM9 6h1v1h-1zM14 6h1v1h-1zM21 6h2v1h-2zM0 7h1v1h-1zM3 7h1v1h-1zM7 7h3v1h-3zM13 7h1v1h-1zM20 7h3v1h-3zM5 8h1v1h-1zM16 9h1v1h-1zM1 10h1v1h-1zM24 10h1v1h-1zM0 11h2v1h-2zM23 11h2v1h-2zM0 12h3v1h-3zM4 12h2v1h-2zM15 12h1v1h-1zM18 12h3v1h-3zM22 12h3v1h-3zM4 13h3v1h-3zM20 13h1v1h-1zM22 13h2v1h-2zM1 14h1v1h-1zM3 14h2v1h-2zM16 14h1v1h-1zM3 15h1v1h-1zM5 15h3v1h-3zM16 15h1v1h-1zM21 15h2v1h-2zM6 16h2v1h-2zM17 16h2v1h-2zM21 16h3v1h-3zM16 17h1v1h-1zM22 17h1v1h-1zM0 18h1v1h-1zM11 18h1v1h-1zM16 18h1v1h-1zM3 19h1v1h-1zM10 19h1v1h-1zM1 20h1v1h-1zM8 20h1v1h-1zM12 20h1v1h-1zM5 21h1v1h-1zM8 21h1v1h-1zM10 21h1v1h-1zM15 21h1v1h-1zM24 22h1v1h-1zM4 23h1v1h-1zM7 23h1v1h-1zM23 24h1v1h-1z"/><path fill="#35b779" d="M1 0h3v1h-3zM8 0h1v1h-1zM15 0h1v1h-1zM22 0h2v1h-2zM7 1h1v1h-1zM14 1h1v1h-1zM17 1h1v1h-1zM2 3h2v1h-2zM9 3h1v1h-1zM11 3h2v1h-2zM17 3h1v1h-1zM7 4h2v1h-2zM12 4h2v1h-2zM18 4h1v1h-1zM7 5h2v1h-2zM12 5h2v1h-2zM17 5h1v1h-1zM2 6h1v1h-1zM7 6h2v1h-2zM13 6h1v1h-1zM4 7h1v1h-1zM6 7h1v1h-1zM10 7h1v1h-1zM14 7h1v1h-1zM0 8h2v1h-2zM4 8h1v1h-1zM6 8h4v1h-4zM20 8h3v1h-3zM4 9h3v1h-3zM11 9h1v1h-1zM15 9h1v1h-1zM20 9h3v1h-3zM24 9h1v1h-1zM0 10h1v1h-1zM5 10h1v1h-1zM15 10h1v1h-1zM20 10h1v1h-1zM22 10h2v1h-2zM20 11h3v1h-3zM3 12h1v1h-1zM7 12h1v1h-1zM16 12h2v1h-2zM3 13h1v1h-1zM7 13h1v1h-1zM17 13h1v1h-1zM0 14h1v1h-1zM2 14h1v1h-1zM5 14h3v1h-3zM17 14h1v1h-1zM2 15h1v1h-1zM17 15h2v1h-2zM1 16h1v1h-1zM3 16h3v1h-3zM8 16h1v1h-1zM24 16h1v1h-1zM1 17h1v1h-1zM6 17h3v1h-3zM15 17h1v1h-1zM21 17h1v1h-1zM23 17h1v1h-1zM7 18h1v1h-1zM10 18h1v1h-1zM15 18h1v1h-1zM23 18h1v1h-1zM2 19h1v1h-1zM9 19h1v1h-1zM12 19h1v1h-1zM15 19h1v1h-1zM2 20h1v1h-1zM5 20h1v1h-1zM13 20h2v1h-2zM18 20h1v1h-1zM23 20h1v1h-1zM1 21h1v1h-1zM7 21h1v1h-1zM9 21h1v1h-1zM14 21h1v1h-1zM16 21h1v1h-1zM18 21h1v1h-1zM3 22h1v1h-1zM9 22h1v1h-1zM14 22h2v1h-2zM3 23h1v1h-1zM8 23h1v1h-1zM19 23h1v1h-1zM3 24h1v1h-1zM5 24h1v1h-1zM14 24h2v1h-2z"/><path fill="#6ece58" d="M4 0h2v1h-2zM2 1h2v1h-2zM5 1h2v1h-2zM8 1h1v1h-1zM15 1h2v1h-2zM18 1h1v1h-1zM22 1h1v1h-1zM2 2h1v1h-1zM9 2h1v1h-1zM15 2h4v1h-4zM4 3h1v1h-1zM7 3h2v1h-2zM13 3h1v1h-1zM16 3h1v1h-1zM23 3h1v1h-1zM0 4h1v1h-1zM6 4h1v1h-1zM9 4h1v1h-1zM16 4h1v1h-1zM20 4h3v1h-3zM14 5h2v1h-2zM18 5h1v1h-1zM20 5h3v1h-3zM6 6h1v1h-1zM12 6h1v1h-1zM15 6h1v1h-1zM20 6h1v1h-1zM24 6h1v1h-1zM5 7h1v1h-1zM23 7h1v1h-1zM3 8h1v1h-1zM10 8h2v1h-2zM16 8h1v1h-1zM19 8h1v1h-1zM23 8h2v1h-2zM0 9h1v1h-1zM3 9h1v1h-1zM7 9h1v1h-1zM10 9h1v1h-1zM12 9h2v1h-2zM19 9h1v1h-1zM23 9h1v1h-1zM4 10h1v1h-1zM6 10h1v1h-1zM14 10h1v1h-1zM16 10h2v1h-2zM21 10h1v1h-1zM2 11h1v1h-1zM4 11h1v1h-1zM15 11h1v1h-1zM17 11h1v1h-1zM6 12h1v1h-1zM21 12h1v1h-1zM1 13h2v1h-2zM8 13h1v1h-1zM18 13h2v1h-2zM8 14h1v1h-1zM18 14h2v1h-2zM0 15h1v1h-1zM19 15h2v1h-2zM2 16h1v1h-1zM9 16h1v1h-1zM0 17h1v1h-1zM2 17h1v1h-1zM4 17h2v1h-2zM9 17h1v1h-1zM11 17h1v1h-1zM14 17h1v1h-1zM17 17h1v1h-1zM24 17h1v1h-1zM2 18h1v1h-1zM9 18h1v1h-1zM20 18h3v1h-3zM24 18h1v1h-1zM14 19h1v1h-1zM18 19h4v1h-4zM23 19h2v1h-2zM6 20h2v1h-2zM15 20h1v1h-1zM19 20h1v1h-1zM2 21h1v1h-1zM4 21h1v1h-1zM6 21h1v1h-1zM11 21h1v1h-1zM22 21h2v1h-2zM1 22h2v1h-2zM4 22h1v1h-1zM10 22h2v1h-2zM13 22h1v1h-1zM19 22h1v1h-1zM21 22h3v1h-3zM2 23h1v1h-1zM10 23h5v1h-5zM16 23h1v1h-1zM20 23h1v1h-1zM22 23h1v1h-1zM4 24h1v1h-1zM6 24h1v1h-1zM8 24h1v1h-1zM11 24h3v1h-3zM16 24h5v1h-5z"/><path fill="#a3da36" d="M0 0h1v1h-1zM10 0h1v1h-1zM19 0h3v1h-3zM4 1h1v1h-1zM9 1h1v1h-1zM19 1h3v1h-3zM3 2h6v1h-6zM19 2h5v1h-5zM5 3h2v1h-2zM14 3h2v1h-2zM18 3h1v1h-1zM21 3h2v1h-2zM4 4h1v1h-1zM11 4h1v1h-1zM14 4h2v1h-2zM23 4h2v1h-2zM4 5h1v1h-1zM6 5h1v1h-1zM11 5h1v1h-1zM16 5h1v1h-1zM19 5h1v1h-1zM23 5h2v1h-2zM5 6h1v1h-1zM10 6h2v1h-2zM16 6h1v1h-1zM23 6h1v1h-1zM11 7h2v1h-2zM15 7h1v1h-1zM24 7h1v1h-1zM2 8h1v1h-1zM12 8h2v1h-2zM15 8h1v1h-1zM1 9h2v1h-2zM8 9h2v1h-2zM14 9h1v1h-1zM2 10h2v1h-2zM7 10h1v1h-1zM10 10h1v1h-1zM13 10h1v1h-1zM3 11h1v1h-1zM5 11h5v1h-5zM14 11h1v1h-1zM16 11h1v1h-1zM8 12h1v1h-1zM11 12h1v1h-1zM14 12h1v1h-1zM9 13h1v1h-1zM13 13h2v1h-2zM12 14h3v1h-3zM8 15h2v1h-2zM12 15h2v1h-2zM15 15h1v1h-1zM10 16h4v1h-4zM16 16h1v1h-1zM19 16h2v1h-2zM3 17h1v1h-1zM10 17h1v1h-1zM12 17h2v1h-2zM18 17h3v1h-3zM3 18h3v1h-3zM12 18h1v1h-1zM14 18h1v1h-1zM17 18h1v1h-1zM19 18h1v1h-1zM13 19h1v1h-1zM22 19h1v1h-1zM9 20h1v1h-1zM20 20h3v1h-3zM24 20h1v1h-1zM0 21h1v1h-1zM3 21h1v1h-1zM12 21h2v1h-2zM20 21h2v1h-2zM24 21h1v1h-1zM0 22h1v1h-1zM12 22h1v1h-1zM16 22h1v1h-1zM20 22h1v1h-1zM0 23h1v1h-1zM9 23h1v1h-1zM15 23h1v1h-1zM17 23h2v1h-2zM21 23h1v1h-1zM0 24h1v1h-1zM2 24h1v1h-1zM7 24h1v1h-1zM9 24h2v1h-2zM21 24h2v1h-2z"/><path fill="#e4e427" d="M9 0h1v1h-1zM19 3h2v1h-2zM5 4h1v1h-1zM10 4h1v1h-1zM19 4h1v1h-1zM5 5h1v1h-1zM10 5h1v1h-1zM17 6h3v1h-3zM16 7h4v1h-4zM14 8h1v1h-1zM17 8h2v1h-2zM17 9h2v1h-2zM8 10h2v1h-2zM11 10h2v1h-2zM10 11h4v1h-4zM9 12h2v1h-2zM12 12h2v1h-2zM10 13h3v1h-3zM9 14h3v1h-3zM10 15h2v1h-2zM14 15h1v1h-1zM14 16h2v1h-2zM6 18h1v1h-1zM13 18h1v1h-1zM18 18h1v1h-1zM5 19h2v1h-2zM19 21h1v1h-1zM17 22h2v1h-2zM1 23h1v1h-1zM1 24h1v1h-1z"/></g></g><path d="M47.5 368.5v-5.56M47.5 227.5v5.56M44.5 365.5h5.56M186.5 365.5h-5.56M75.5 368.5v-5.56M75.5 227.5v5.56M44.5 337.5h5.56M186.5 337.5h-5.56M104.5 368.5v-5.56M104.5 227.5v5.56M44.5 309.5h5.56M186.5 309.5h-5.56M132.5 368.5v-5.56M132.5 227.5v5.56M44.5 280.5h5.56M186.5 280.5h-5.56M161.5 368.5v-5.56M161.5 227.5v5.56M44.5 252.5h5.56M186.5 252.5h-5.56" stroke="#000" stroke-width="1" fill="none"/><rect x="44.5" y="227.5" width="142" height="141" fill="none" stroke="#000" stroke-width="1"/><text x="42.09" y="387.60" font-size="17.00" textLength="10.23" lengthAdjust="spacingAndGlyphs">0</text><text x="28.84" y="369.60" font-size="17.00" textLength="10.23" lengthAdjust="spacingAndGlyphs">0</text><text x="70.17" y="387.60" font-size="17.00" textLength="10.23" lengthAdjust="spacingAndGlyphs">5</text><text x="29.17" y="341.60" font-size="17.00" textLength="10.23" lengthAdjust="spacingAndGlyphs">5</text><text x="93.62" y="387.60" font-size="17.00" textLength="20.47" lengthAdjust="spacingAndGlyphs">10</text><text x="18.60" y="313.60" font-size="17.00" textLength="20.47" lengthAdjust="spacingAndGlyphs">10</text><text x="121.79" y="387.60" font-size="17.00" textLength="20.47" lengthAdjust="spacingAndGlyphs">15</text><text x="18.94" y="284.60" font-size="17.00" textLength="20.47" lengthAdjust="spacingAndGlyphs">15</text><text x="150.91" y="387.60" font-size="17.00" textLength="20.47" lengthAdjust="spacingAndGlyphs">20</text><text x="18.60" y="256.60" font-size="17.00" textLength="20.47" lengthAdjust="spacingAndGlyphs">20</text><text x="84.21" y="219.70" font-size="20.40" textLength="61.57" lengthAdjust="spacingAndGlyphs">f105w</text><clipPath id="c5"><rect x="244.5" y="227.5" width="142" height="141"/></clipPath><g clip-path="url(#c5)"><g transform="translate(243.87,225.95) scale(5.6760)" shape-rendering="crispEdges"><path fill="#440154" d="M9 0h1v1h-1zM9 1h2v1h-2zM3 2h1v1h-1zM17 5h2v1h-2zM17 6h1v1h-1z"/><path fill="#482878" d="M8 0h1v1h-1z"/><path fill="#3e4a89" d="M9 2h1v1h-1zM2 3h2v1h-2zM11 24h1v1h-1z"/><path fill="#31688e" d="M2 2h1v1h-1zM16 5h1v1h-1zM0 8h2v1h-2z"/><path fill="#26828e" d="M24 1h1v1h-1zM10 2h2v1h-2zM10 3h1v1h-1zM13 3h2v1h-2zM9 4h1v1h-1zM13 4h1v1h-1zM18 6h1v1h-1zM24 11h1v1h-1zM2 16h2v1h-2zM0 17h3v1h-3z"/><path fill="#1f9e89" d="M1 0h2v1h-2zM10 0h1v1h-1zM16 0h1v1h-1zM1 1h3v1h-3zM1 2h1v1h-1zM14 2h1v1h-1zM17 2h2v1h-2zM4 3h1v1h-1zM8 3h2v1h-2zM11 3h1v1h-1zM18 3h1v1h-1zM3 4h2v1h-2zM8 4h1v1h-1zM14 4h1v1h-1zM21 4h3v1h-3zM3 5h1v1h-1zM8 5h1v1h-1zM14 5h2v1h-2zM22 5h2v1h-2zM9 6h1v1h-1zM0 9h1v1h-1zM2 9h1v1h-1zM9 9h1v1h-1zM1 10h2v1h-2zM9 10h1v1h-1zM12 10h2v1h-2zM24 10h1v1h-1zM2 11h2v1h-2zM12 11h1v1h-1zM18 11h2v1h-2zM23 11h1v1h-1zM3 12h1v1h-1zM18 12h2v1h-2zM23 12h2v1h-2zM1 13h3v1h-3zM19 13h2v1h-2zM2 14h2v1h-2zM19 14h1v1h-1zM2 15h2v1h-2zM1 16h1v1h-1zM9 16h3v1h-3zM8 17h3v1h-3zM1 18h1v1h-1zM13 19h1v1h-1zM13 20h2v1h-2zM14 21h1v1h-1zM0 23h1v1h-1zM17 23h1v1h-1zM17 24h1v1h-1zM19 24h1v1h-1z"/><path fill="#35b779" d="M0 0h1v1h-1zM3 0h2v1h-2zM17 0h1v1h-1zM4 1h1v1h-1zM8 1h1v1h-1zM15 1h4v1h-4zM4 2h2v1h-2zM13 2h1v1h-1zM15 2h2v1h-2zM19 2h1v1h-1zM22 2h1v1h-1zM12 3h1v1h-1zM15 3h1v1h-1zM17 3h1v1h-1zM19 3h4v1h-4zM2 4h1v1h-1zM7 4h1v1h-1zM15 4h1v1h-1zM17 4h4v1h-4zM6 6h3v1h-3zM19 6h1v1h-1zM22 6h2v1h-2zM1 7h3v1h-3zM5 7h3v1h-3zM17 7h3v1h-3zM23 7h1v1h-1zM2 8h1v1h-1zM5 8h2v1h-2zM11 8h2v1h-2zM16 8h4v1h-4zM1 9h1v1h-1zM5 9h2v1h-2zM11 9h2v1h-2zM20 9h1v1h-1zM3 10h1v1h-1zM6 10h1v1h-1zM8 10h1v1h-1zM10 10h2v1h-2zM19 10h3v1h-3zM1 11h1v1h-1zM13 11h1v1h-1zM20 11h1v1h-1zM0 12h3v1h-3zM4 12h1v1h-1zM0 13h1v1h-1zM4 13h1v1h-1zM0 14h2v1h-2zM4 14h2v1h-2zM7 14h1v1h-1zM9 14h1v1h-1zM24 14h1v1h-1zM1 15h1v1h-1zM5 15h1v1h-1zM10 15h1v1h-1zM14 15h3v1h-3zM4 16h1v1h-1zM15 16h2v1h-2zM0 18h1v1h-1zM8 18h2v1h-2zM12 19h1v1h-1zM16 19h1v1h-1zM12 20h1v1h-1zM15 20h3v1h-3zM19 20h1v1h-1zM13 21h1v1h-1zM15 21h1v1h-1zM11 22h1v1h-1zM14 22h1v1h-1zM24 22h1v1h-1zM11 23h1v1h-1zM18 23h1v1h-1zM3 24h1v1h-1zM10 24h1v1h-1zM18 24h1v1h-1z"/><path fill="#6ece58" d="M13 0h3v1h-3zM18 0h2v1h-2zM23 0h2v1h-2zM0 1h1v1h-1zM5 1h1v1h-1zM14 1h1v1h-1zM22 1h2v1h-2zM12 2h1v1h-1zM21 2h1v1h-1zM23 2h2v1h-2zM5 3h1v1h-1zM7 3h1v1h-1zM16 3h1v1h-1zM5 4h1v1h-1zM16 4h1v1h-1zM24 4h1v1h-1zM0 5h2v1h-2zM6 5h2v1h-2zM19 5h3v1h-3zM24 5h1v1h-1zM1 6h3v1h-3zM10 6h1v1h-1zM14 6h1v1h-1zM20 6h2v1h-2zM24 6h1v1h-1zM4 7h1v1h-1zM8 7h1v1h-1zM10 7h2v1h-2zM16 7h1v1h-1zM20 7h3v1h-3zM24 7h1v1h-1zM3 8h2v1h-2zM7 8h1v1h-1zM10 8h1v1h-1zM15 8h1v1h-1zM20 8h2v1h-2zM3 9h2v1h-2zM7 9h1v1h-1zM10 9h1v1h-1zM13 9h1v1h-1zM16 9h1v1h-1zM4 10h2v1h-2zM7 10h1v1h-1zM14 10h1v1h-1zM18 10h1v1h-1zM23 10h1v1h-1zM4 11h2v1h-2zM9 11h1v1h-1zM11 11h1v1h-1zM17 11h1v1h-1zM21 11h1v1h-1zM5 12h2v1h-2zM10 12h2v1h-2zM20 12h1v1h-1zM5 13h3v1h-3zM6 14h1v1h-1zM8 14h1v1h-1zM10 14h1v1h-1zM20 14h1v1h-1zM4 15h1v1h-1zM6 15h1v1h-1zM9 15h1v1h-1zM11 15h1v1h-1zM24 15h1v1h-1zM0 16h1v1h-1zM17 16h2v1h-2zM23 16h1v1h-1zM3 17h1v1h-1zM7 17h1v1h-1zM16 17h1v1h-1zM21 17h1v1h-1zM4 18h2v1h-2zM10 18h1v1h-1zM16 18h1v1h-1zM4 19h3v1h-3zM9 19h2v1h-2zM15 19h1v1h-1zM0 20h1v1h-1zM4 20h2v1h-2zM9 20h1v1h-1zM18 20h1v1h-1zM0 21h1v1h-1zM5 21h2v1h-2zM12 21h1v1h-1zM18 21h2v1h-2zM24 21h1v1h-1zM1 22h2v1h-2zM12 22h2v1h-2zM3 23h1v1h-1zM9 23h2v1h-2zM21 23h1v1h-1zM9 24h1v1h-1zM20 24h3v1h-3z"/><path fill="#a3da36" d="M5 0h3v1h-3zM20 0h1v1h-1zM22 0h1v1h-1zM6 1h2v1h-2zM11 1h3v1h-3zM0 2h1v1h-1zM6 2h3v1h-3zM0 3h2v1h-2zM6 3h1v1h-1zM23 3h2v1h-2zM0 4h2v1h-2zM6 4h1v1h-1zM10 4h3v1h-3zM2 5h1v1h-1zM4 5h2v1h-2zM9 5h3v1h-3zM13 5h1v1h-1zM0 6h1v1h-1zM4 6h2v1h-2zM11 6h1v1h-1zM15 6h2v1h-2zM0 7h1v1h-1zM9 7h1v1h-1zM13 7h3v1h-3zM8 8h2v1h-2zM13 8h2v1h-2zM22 8h3v1h-3zM8 9h1v1h-1zM14 9h2v1h-2zM17 9h2v1h-2zM21 9h1v1h-1zM24 9h1v1h-1zM0 10h1v1h-1zM15 10h3v1h-3zM0 11h1v1h-1zM6 11h3v1h-3zM10 11h1v1h-1zM14 11h3v1h-3zM22 11h1v1h-1zM7 12h1v1h-1zM10 13h1v1h-1zM18 13h1v1h-1zM22 13h2v1h-2zM13 14h1v1h-1zM16 14h3v1h-3zM21 14h3v1h-3zM0 15h1v1h-1zM7 15h2v1h-2zM12 15h2v1h-2zM17 15h7v1h-7zM5 16h4v1h-4zM12 16h3v1h-3zM19 16h4v1h-4zM24 16h1v1h-1zM4 17h3v1h-3zM13 17h3v1h-3zM18 17h1v1h-1zM22 17h3v1h-3zM2 18h2v1h-2zM6 18h1v1h-1zM13 18h3v1h-3zM0 19h3v1h-3zM8 19h1v1h-1zM11 19h1v1h-1zM14 19h1v1h-1zM1 20h1v1h-1zM6 20h1v1h-1zM8 20h1v1h-1zM10 20h2v1h-2zM20 20h2v1h-2zM23 20h2v1h-2zM1 21h1v1h-1zM4 21h1v1h-1zM7 21h2v1h-2zM11 21h1v1h-1zM16 21h1v1h-1zM20 21h4v1h-4zM0 22h1v1h-1zM3 22h5v1h-5zM15 22h1v1h-1zM18 22h1v1h-1zM1 23h2v1h-2zM4 23h1v1h-1zM6 23h3v1h-3zM12 23h1v1h-1zM15 23h2v1h-2zM24 23h1v1h-1zM2 24h1v1h-1zM4 24h1v1h-1zM7 24h1v1h-1zM15 24h2v1h-2z"/><path fill="#e4e427" d="M11 0h2v1h-2zM21 0h1v1h-1zM19 1h3v1h-3zM20 2h1v1h-1zM12 5h1v1h-1zM12 6h2v1h-2zM12 7h1v1h-1zM19 9h1v1h-1zM22 9h2v1h-2zM22 10h1v1h-1zM8 12h2v1h-2zM12 12h6v1h-6zM21 12h2v1h-2zM8 13h2v1h-2zM11 13h7v1h-7zM21 13h1v1h-1zM24 13h1v1h-1zM11 14h2v1h-2zM14 14h2v1h-2zM11 17h2v1h-2zM17 17h1v1h-1zM19 17h2v1h-2zM11 18h2v1h-2zM19 18h2v1h-2zM7 19h1v1h-1zM9 21h1v1h-1zM17 21h1v1h-1zM8 22h3v1h-3zM16 22h2v1h-2zM19 22h2v1h-2zM19 23h2v1h-2zM1 24h1v1h-1zM6 24h1v1h-1zM23 24h2v1h-2z"/><path fill="#c7e02a" d="M7 18h1v1h-1zM17 18h2v1h-2zM21 18h4v1h-4zM3 19h1v1h-1zM17 19h8v1h-8zM2 20h2v1h-2zM7 20h1v1h-1zM22 20h1v1h-1zM2 21h2v1h-2zM10 21h1v1h-1zM21 22h3v1h-3zM5 23h1v1h-1zM13 23h2v1h-2zM22 23h2v1h-2zM0 24h1v1h-1zM5 24h1v1h-1zM8 24h1v1h-1zM12 24h3v1h-3z"/></g></g><path d="M247.5 368.5v-5.56M247.5 227.5v5.56M244.5 365.5h5.56M386.5 365.5h-5.56M275.5 368.5v-5.56M275.5 227.5v5.56M244.5 337.5h5.56M386.5 337.5h-5.56M303.5 368.5v-5.56M303.5 227.5v5.56M244.5 309.5h5.56M386.5 309.5h-5.56M332.5 368.5v-5.56M332.5 227.5v5.56M244.5 280.5h5.56M386.5 280.5h-5.56M360.5 368.5v-5.56M360.5 227.5v5.56M244.5 252.5h5.56M386.5 252.5h-5.56" stroke="#000" stroke-width="1" fill="none"/><rect x="244.5" y="227.5" width="142" height="141" fill="none" stroke="#000" stroke-width="1"/><text x="242.09" y="387.60" font-size="17.00" textLength="10.23" lengthAdjust="spacingAndGlyphs">0</text><text x="228.84" y="369.60" font-size="17.00" textLength="10.23" lengthAdjust="spacingAndGlyphs">0</text><text x="270.17" y="387.60" font-size="17.00" textLength="10.23" lengthAdjust="spacingAndGlyphs">5</text><text x="229.17" y="341.60" font-size="17.00" textLength="10.23" lengthAdjust="spacingAndGlyphs">5</text><text x="292.62" y="387.60" font-size="17.00" textLength="20.47" lengthAdjust="spacingAndGlyphs">10</text><text x="218.60" y="313.60" font-size="17.00" textLength="20.47" lengthAdjust="spacingAndGlyphs">10</text><text x="321.79" y="387.60" font-size="17.00" textLength="20.47" lengthAdjust="spacingAndGlyphs">15</text><text x="218.94" y="284.60" font-size="17.00" textLength="20.47" lengthAdjust="spacingAndGlyphs">15</text><text x="349.91" y="387.60" font-size="17.00" textLength="20.47" lengthAdjust="spacingAndGlyphs">20</text><text x="218.60" y="256.60" font-size="17.00" textLength="20.47" lengthAdjust="spacingAndGlyphs">20</text><text x="284.21" y="219.70" font-size="20.40" textLength="61.57" lengthAdjust="spacingAndGlyphs">f125w</text><clipPath id="c6"><rect x="443.5" y="227.5" width="142" height="141"/></clipPath><g clip-path="url(#c6)"><g transform="translate(443.53999999999996,225.95) scale(5.6760)" shape-rendering="crispEdges"><path fill="#440154" d="M14 1h3v1h-3zM13 2h2v1h-2zM19 19h1v1h-1zM18 20h3v1h-3z"/><path fill="#482878" d="M15 0h1v1h-1zM9 15h1v1h-1z"/><path fill="#3e4a89" d="M1 0h1v1h-1zM14 0h1v1h-1zM15 2h1v1h-1zM5 13h1v1h-1zM18 14h2v1h-2zM19 21h1v1h-1z"/><path fill="#31688e" d="M20 0h2v1h-2zM20 1h1v1h-1zM13 3h2v1h-2zM17 4h1v1h-1zM5 5h1v1h-1zM17 5h1v1h-1zM5 12h1v1h-1zM4 13h1v1h-1zM8 15h1v1h-1zM10 17h1v1h-1zM9 18h1v1h-1z"/><path fill="#26828e" d="M13 1h1v1h-1zM10 3h1v1h-1zM9 4h1v1h-1zM14 4h2v1h-2zM18 4h1v1h-1zM24 4h1v1h-1zM4 5h1v1h-1zM18 5h1v1h-1zM23 5h2v1h-2zM23 6h2v1h-2zM24 12h1v1h-1zM17 13h2v1h-2zM17 14h1v1h-1zM6 16h1v1h-1zM2 21h1v1h-1z"/><path fill="#1f9e89" d="M2 0h1v1h-1zM12 0h2v1h-2zM19 0h1v1h-1zM1 1h1v1h-1zM12 1h1v1h-1zM9 3h1v1h-1zM15 3h1v1h-1zM6 4h1v1h-1zM16 4h1v1h-1zM6 5h1v1h-1zM4 6h2v1h-2zM18 6h1v1h-1zM4 7h1v1h-1zM8 7h2v1h-2zM18 7h1v1h-1zM23 7h2v1h-2zM3 8h1v1h-1zM9 8h1v1h-1zM24 8h1v1h-1zM5 9h2v1h-2zM5 10h1v1h-1zM19 10h1v1h-1zM5 11h2v1h-2zM18 11h1v1h-1zM4 12h1v1h-1zM18 12h1v1h-1zM15 13h1v1h-1zM4 14h1v1h-1zM23 14h2v1h-2zM2 15h3v1h-3zM17 15h2v1h-2zM23 15h2v1h-2zM1 16h1v1h-1zM3 16h3v1h-3zM7 16h1v1h-1zM10 16h1v1h-1zM15 16h2v1h-2zM1 17h1v1h-1zM3 17h2v1h-2zM9 17h1v1h-1zM0 19h2v1h-2zM18 19h1v1h-1zM0 20h1v1h-1zM6 20h2v1h-2zM13 20h1v1h-1zM23 20h1v1h-1zM3 21h1v1h-1zM6 21h2v1h-2zM10 21h1v1h-1zM18 21h1v1h-1zM24 21h1v1h-1zM24 22h1v1h-1zM12 23h1v1h-1zM3 24h1v1h-1zM9 24h1v1h-1z"/><path fill="#35b779" d="M0 0h1v1h-1zM16 0h1v1h-1zM2 1h2v1h-2zM8 1h1v1h-1zM21 1h1v1h-1zM2 2h2v1h-2zM8 2h2v1h-2zM12 2h1v1h-1zM16 2h1v1h-1zM11 3h2v1h-2zM16 3h1v1h-1zM22 3h2v1h-2zM0 4h1v1h-1zM12 4h2v1h-2zM3 5h1v1h-1zM12 5h1v1h-1zM22 5h1v1h-1zM2 6h2v1h-2zM12 6h1v1h-1zM19 6h1v1h-1zM3 7h1v1h-1zM11 7h2v1h-2zM19 7h1v1h-1zM4 8h1v1h-1zM7 8h2v1h-2zM10 8h3v1h-3zM14 8h2v1h-2zM20 8h1v1h-1zM4 9h1v1h-1zM14 9h1v1h-1zM0 10h1v1h-1zM4 10h1v1h-1zM6 10h1v1h-1zM18 10h1v1h-1zM9 11h1v1h-1zM19 11h1v1h-1zM6 12h4v1h-4zM17 12h1v1h-1zM6 13h1v1h-1zM14 13h1v1h-1zM16 13h1v1h-1zM8 14h1v1h-1zM14 14h3v1h-3zM0 15h2v1h-2zM6 15h2v1h-2zM10 15h1v1h-1zM13 15h4v1h-4zM19 15h1v1h-1zM0 16h1v1h-1zM2 16h1v1h-1zM8 16h1v1h-1zM14 16h1v1h-1zM17 16h3v1h-3zM5 17h1v1h-1zM14 17h2v1h-2zM17 17h1v1h-1zM3 18h2v1h-2zM14 18h1v1h-1zM18 18h2v1h-2zM24 18h1v1h-1zM4 19h1v1h-1zM14 19h3v1h-3zM23 19h2v1h-2zM1 20h2v1h-2zM4 20h1v1h-1zM14 20h1v1h-1zM22 20h1v1h-1zM24 20h1v1h-1zM1 21h1v1h-1zM4 21h1v1h-1zM14 21h1v1h-1zM22 21h1v1h-1zM9 23h1v1h-1zM13 23h1v1h-1zM2 24h1v1h-1zM4 24h1v1h-1zM13 24h1v1h-1z"/><path fill="#6ece58" d="M3 0h1v1h-1zM5 0h1v1h-1zM7 0h2v1h-2zM10 0h2v1h-2zM17 0h2v1h-2zM22 0h3v1h-3zM0 1h1v1h-1zM4 1h4v1h-4zM9 1h3v1h-3zM23 1h2v1h-2zM0 2h1v1h-1zM4 2h1v1h-1zM10 2h2v1h-2zM23 2h2v1h-2zM3 3h1v1h-1zM8 3h1v1h-1zM17 3h1v1h-1zM24 3h1v1h-1zM2 4h2v1h-2zM5 4h1v1h-1zM7 4h1v1h-1zM11 4h1v1h-1zM22 4h2v1h-2zM2 5h1v1h-1zM8 6h2v1h-2zM11 6h1v1h-1zM17 6h1v1h-1zM22 6h1v1h-1zM0 7h3v1h-3zM5 7h1v1h-1zM10 7h1v1h-1zM0 8h3v1h-3zM5 8h2v1h-2zM18 8h2v1h-2zM0 9h1v1h-1zM7 9h1v1h-1zM15 9h1v1h-1zM17 9h1v1h-1zM1 10h1v1h-1zM17 10h1v1h-1zM2 11h2v1h-2zM7 11h2v1h-2zM17 11h1v1h-1zM3 12h1v1h-1zM10 12h1v1h-1zM3 13h1v1h-1zM7 13h2v1h-2zM24 13h1v1h-1zM0 14h1v1h-1zM5 14h1v1h-1zM7 14h1v1h-1zM9 14h1v1h-1zM11 14h1v1h-1zM13 14h1v1h-1zM20 14h2v1h-2zM5 15h1v1h-1zM11 15h2v1h-2zM20 15h1v1h-1zM9 16h1v1h-1zM11 16h3v1h-3zM0 17h1v1h-1zM2 17h1v1h-1zM6 17h1v1h-1zM11 17h3v1h-3zM16 17h1v1h-1zM18 17h1v1h-1zM22 17h1v1h-1zM2 18h1v1h-1zM5 18h1v1h-1zM13 18h1v1h-1zM15 18h2v1h-2zM22 18h2v1h-2zM2 19h2v1h-2zM5 19h2v1h-2zM9 19h1v1h-1zM13 19h1v1h-1zM17 19h1v1h-1zM20 19h1v1h-1zM22 19h1v1h-1zM3 20h1v1h-1zM5 20h1v1h-1zM8 20h1v1h-1zM15 20h3v1h-3zM21 20h1v1h-1zM9 21h1v1h-1zM13 21h1v1h-1zM15 21h1v1h-1zM17 21h1v1h-1zM20 21h1v1h-1zM1 22h1v1h-1zM4 22h1v1h-1zM8 22h2v1h-2zM13 22h1v1h-1zM14 23h1v1h-1zM21 23h3v1h-3zM10 24h1v1h-1z"/><path fill="#a3da36" d="M4 0h1v1h-1zM6 0h1v1h-1zM9 0h1v1h-1zM17 1h1v1h-1zM19 1h1v1h-1zM22 1h1v1h-1zM1 2h1v1h-1zM5 2h3v1h-3zM17 2h1v1h-1zM20 2h3v1h-3zM0 3h1v1h-1zM4 3h4v1h-4zM18 3h4v1h-4zM4 4h1v1h-1zM8 4h1v1h-1zM19 4h1v1h-1zM21 4h1v1h-1zM0 5h2v1h-2zM7 5h3v1h-3zM11 5h1v1h-1zM13 5h4v1h-4zM19 5h1v1h-1zM6 6h2v1h-2zM10 6h1v1h-1zM15 6h2v1h-2zM21 6h1v1h-1zM15 7h1v1h-1zM20 7h3v1h-3zM13 8h1v1h-1zM17 8h1v1h-1zM21 8h1v1h-1zM1 9h3v1h-3zM8 9h2v1h-2zM12 9h2v1h-2zM16 9h1v1h-1zM18 9h4v1h-4zM24 9h1v1h-1zM2 10h2v1h-2zM7 10h3v1h-3zM12 10h2v1h-2zM16 10h1v1h-1zM20 10h5v1h-5zM0 11h1v1h-1zM4 11h1v1h-1zM10 11h2v1h-2zM16 11h1v1h-1zM21 11h4v1h-4zM16 12h1v1h-1zM22 12h2v1h-2zM0 13h1v1h-1zM9 13h1v1h-1zM23 13h1v1h-1zM1 14h1v1h-1zM3 14h1v1h-1zM6 14h1v1h-1zM10 14h1v1h-1zM22 14h1v1h-1zM21 15h1v1h-1zM20 16h1v1h-1zM23 16h1v1h-1zM23 17h1v1h-1zM0 18h2v1h-2zM6 18h1v1h-1zM10 18h1v1h-1zM12 18h1v1h-1zM17 18h1v1h-1zM21 18h1v1h-1zM8 19h1v1h-1zM12 19h1v1h-1zM21 19h1v1h-1zM9 20h4v1h-4zM0 21h1v1h-1zM5 21h1v1h-1zM8 21h1v1h-1zM11 21h1v1h-1zM16 21h1v1h-1zM21 21h1v1h-1zM23 21h1v1h-1zM0 22h1v1h-1zM2 22h1v1h-1zM5 22h1v1h-1zM10 22h1v1h-1zM12 22h1v1h-1zM14 22h1v1h-1zM19 22h2v1h-2zM23 22h1v1h-1zM0 23h1v1h-1zM8 23h1v1h-1zM20 23h1v1h-1zM24 23h1v1h-1zM0 24h2v1h-2zM5 24h1v1h-1zM8 24h1v1h-1zM11 24h2v1h-2zM14 24h1v1h-1zM16 24h2v1h-2zM21 24h2v1h-2zM24 24h1v1h-1z"/><path fill="#e4e427" d="M1 3h2v1h-2zM20 5h2v1h-2zM20 6h1v1h-1zM7 7h1v1h-1zM13 7h1v1h-1zM16 7h2v1h-2zM15 10h1v1h-1zM1 11h1v1h-1zM15 11h1v1h-1zM20 11h1v1h-1zM1 12h1v1h-1zM15 12h1v1h-1zM11 13h1v1h-1zM13 13h1v1h-1zM12 14h1v1h-1zM22 15h1v1h-1zM21 16h2v1h-2zM7 17h1v1h-1zM20 17h2v1h-2zM24 17h1v1h-1zM11 18h1v1h-1zM20 18h1v1h-1zM7 19h1v1h-1zM10 19h1v1h-1zM6 22h1v1h-1zM11 22h1v1h-1zM18 22h1v1h-1zM22 22h1v1h-1zM2 23h4v1h-4zM10 23h2v1h-2zM18 23h2v1h-2zM15 24h1v1h-1zM18 24h1v1h-1zM20 24h1v1h-1zM23 24h1v1h-1z"/><path fill="#c7e02a" d="M18 1h1v1h-1zM18 2h2v1h-2zM1 4h1v1h-1zM10 4h1v1h-1zM20 4h1v1h-1zM10 5h1v1h-1zM0 6h2v1h-2zM13 6h2v1h-2zM6 7h1v1h-1zM14 7h1v1h-1zM16 8h1v1h-1zM22 8h2v1h-2zM10 9h2v1h-2zM22 9h2v1h-2zM10 10h2v1h-2zM14 10h1v1h-1zM12 11h1v1h-1zM2 12h1v1h-1zM21 12h1v1h-1zM1 13h2v1h-2zM10 13h1v1h-1zM19 13h1v1h-1zM21 13h2v1h-2zM2 14h1v1h-1zM8 17h1v1h-1zM19 17h1v1h-1zM12 21h1v1h-1zM3 22h1v1h-1zM7 22h1v1h-1zM15 22h3v1h-3zM21 22h1v1h-1zM1 23h1v1h-1zM6 23h2v1h-2zM15 23h3v1h-3zM6 24h1v1h-1z"/><path fill="#fde725" d="M13 11h2v1h-2zM0 12h1v1h-1zM11 12h4v1h-4zM19 12h2v1h-2zM12 13h1v1h-1zM20 13h1v1h-1zM24 16h1v1h-1zM7 18h2v1h-2zM11 19h1v1h-1zM7 24h1v1h-1zM19 24h1v1h-1z"/></g></g><path d="M446.5 368.5v-5.56M446.5 227.5v5.56M443.5 365.5h5.56M585.5 365.5h-5.56M475.5 368.5v-5.56M475.5 227.5v5.56M443.5 337.5h5.56M585.5 337.5h-5.56M503.5 368.5v-5.56M503.5 227.5v5.56M443.5 309.5h5.56M585.5 309.5h-5.56M532.5 368.5v-5.56M532.5 227.5v5.56M443.5 280.5h5.56M585.5 280.5h-5.56M560.5 368.5v-5.56M560.5 227.5v5.56M443.5 252.5h5.56M585.5 252.5h-5.56" stroke="#000" stroke-width="1" fill="none"/><rect x="443.5" y="227.5" width="142" height="141" fill="none" stroke="#000" stroke-width="1"/><text x="441.09" y="387.60" font-size="17.00" textLength="10.23" lengthAdjust="spacingAndGlyphs">0</text><text x="427.84" y="369.60" font-size="17.00" textLength="10.23" lengthAdjust="spacingAndGlyphs">0</text><text x="470.17" y="387.60" font-size="17.00" textLength="10.23" lengthAdjust="spacingAndGlyphs">5</text><text x="428.17" y="341.60" font-size="17.00" textLength="10.23" lengthAdjust="spacingAndGlyphs">5</text><text x="492.62" y="387.60" font-size="17.00" textLength="20.47" lengthAdjust="spacingAndGlyphs">10</text><text x="417.60" y="313.60" font-size="17.00" textLength="20.47" lengthAdjust="spacingAndGlyphs">10</text><text x="521.79" y="387.60" font-size="17.00" textLength="20.47" lengthAdjust="spacingAndGlyphs">15</text><text x="417.94" y="284.60" font-size="17.00" textLength="20.47" lengthAdjust="spacingAndGlyphs">15</text><text x="549.91" y="387.60" font-size="17.00" textLength="20.47" lengthAdjust="spacingAndGlyphs">20</text><text x="417.60" y="256.60" font-size="17.00" textLength="20.47" lengthAdjust="spacingAndGlyphs">20</text><text x="483.21" y="219.70" font-size="20.40" textLength="61.57" lengthAdjust="spacingAndGlyphs">f140w</text><clipPath id="c7"><rect x="643.5" y="227.5" width="142" height="141"/></clipPath><g clip-path="url(#c7)"><g transform="translate(643.21,225.95) scale(5.6760)" shape-rendering="crispEdges"><path fill="#440154" d="M3 0h1v1h-1zM11 1h2v1h-2zM1 2h1v1h-1zM12 2h1v1h-1zM0 3h2v1h-2zM0 4h1v1h-1zM16 8h2v1h-2z"/><path fill="#482878" d="M13 1h1v1h-1zM15 1h1v1h-1zM2 2h1v1h-1zM15 2h1v1h-1zM4 4h1v1h-1zM2 20h2v1h-2z"/><path fill="#3e4a89" d="M19 0h1v1h-1zM2 3h1v1h-1zM24 4h1v1h-1zM17 5h1v1h-1zM0 6h1v1h-1zM19 8h1v1h-1zM19 9h1v1h-1zM7 11h1v1h-1zM2 21h1v1h-1z"/><path fill="#31688e" d="M3 2h1v1h-1zM14 2h1v1h-1zM6 4h1v1h-1zM17 4h1v1h-1zM6 5h1v1h-1zM16 5h1v1h-1zM18 5h1v1h-1zM16 7h1v1h-1zM7 10h1v1h-1zM8 11h1v1h-1zM24 13h1v1h-1zM6 15h1v1h-1zM5 16h1v1h-1zM5 17h1v1h-1zM3 21h1v1h-1z"/><path fill="#26828e" d="M2 0h1v1h-1zM12 0h1v1h-1zM16 2h1v1h-1zM3 4h1v1h-1zM5 4h1v1h-1zM5 5h1v1h-1zM17 6h1v1h-1zM15 8h1v1h-1zM8 10h1v1h-1zM3 13h1v1h-1zM7 13h1v1h-1zM7 14h1v1h-1zM7 15h1v1h-1zM4 16h1v1h-1zM6 16h2v1h-2zM1 18h1v1h-1zM1 19h1v1h-1zM10 21h1v1h-1z"/><path fill="#1f9e89" d="M4 0h1v1h-1zM18 0h1v1h-1zM22 0h1v1h-1zM2 1h1v1h-1zM22 1h2v1h-2zM13 2h1v1h-1zM23 2h1v1h-1zM3 3h1v1h-1zM12 3h1v1h-1zM14 3h1v1h-1zM16 3h1v1h-1zM1 4h1v1h-1zM3 5h1v1h-1zM7 5h1v1h-1zM20 5h1v1h-1zM24 5h1v1h-1zM6 6h1v1h-1zM22 6h3v1h-3zM2 8h2v1h-2zM7 8h1v1h-1zM3 9h2v1h-2zM9 9h1v1h-1zM16 9h1v1h-1zM9 10h1v1h-1zM0 11h1v1h-1zM3 12h2v1h-2zM7 12h1v1h-1zM21 12h1v1h-1zM4 13h1v1h-1zM3 14h1v1h-1zM6 14h1v1h-1zM8 14h1v1h-1zM3 15h1v1h-1zM8 15h1v1h-1zM11 15h1v1h-1zM23 15h1v1h-1zM3 16h1v1h-1zM10 16h2v1h-2zM17 17h1v1h-1zM2 18h1v1h-1zM2 19h1v1h-1zM9 20h3v1h-3zM18 20h2v1h-2zM8 21h1v1h-1zM11 21h2v1h-2zM18 21h3v1h-3zM3 22h2v1h-2zM8 22h1v1h-1zM11 22h2v1h-2zM19 22h2v1h-2zM22 22h2v1h-2zM16 23h1v1h-1zM22 23h2v1h-2z"/><path fill="#35b779" d="M1 0h1v1h-1zM6 0h3v1h-3zM20 0h2v1h-2zM23 0h2v1h-2zM1 1h1v1h-1zM3 1h1v1h-1zM14 1h1v1h-1zM19 1h3v1h-3zM20 2h3v1h-3zM4 3h1v1h-1zM11 3h1v1h-1zM13 3h1v1h-1zM15 3h1v1h-1zM17 3h1v1h-1zM7 4h1v1h-1zM10 4h3v1h-3zM16 4h1v1h-1zM0 5h1v1h-1zM10 5h1v1h-1zM2 6h2v1h-2zM7 6h1v1h-1zM19 6h3v1h-3zM0 7h4v1h-4zM6 7h3v1h-3zM17 7h1v1h-1zM23 7h1v1h-1zM4 8h1v1h-1zM6 8h1v1h-1zM8 8h1v1h-1zM2 9h1v1h-1zM5 9h4v1h-4zM10 9h1v1h-1zM0 10h1v1h-1zM3 10h1v1h-1zM5 10h2v1h-2zM24 10h1v1h-1zM5 11h2v1h-2zM0 12h1v1h-1zM2 12h1v1h-1zM5 12h2v1h-2zM8 12h1v1h-1zM16 12h3v1h-3zM24 12h1v1h-1zM0 13h1v1h-1zM2 13h1v1h-1zM6 13h1v1h-1zM9 13h1v1h-1zM15 13h3v1h-3zM4 14h1v1h-1zM9 14h1v1h-1zM16 14h3v1h-3zM20 14h2v1h-2zM4 15h2v1h-2zM9 15h2v1h-2zM14 15h1v1h-1zM17 15h1v1h-1zM20 15h2v1h-2zM24 15h1v1h-1zM2 16h1v1h-1zM9 16h1v1h-1zM14 16h1v1h-1zM23 16h1v1h-1zM1 17h1v1h-1zM6 17h1v1h-1zM9 17h1v1h-1zM14 17h1v1h-1zM0 18h1v1h-1zM13 18h1v1h-1zM7 19h2v1h-2zM11 19h3v1h-3zM7 20h2v1h-2zM12 20h2v1h-2zM22 20h1v1h-1zM4 21h1v1h-1zM9 21h1v1h-1zM13 21h1v1h-1zM17 21h1v1h-1zM21 21h2v1h-2zM9 22h1v1h-1zM13 22h1v1h-1zM17 22h1v1h-1zM21 22h1v1h-1zM0 23h1v1h-1zM3 23h2v1h-2zM11 23h1v1h-1zM14 23h2v1h-2zM19 23h1v1h-1zM17 24h1v1h-1zM19 24h1v1h-1z"/><path fill="#6ece58" d="M0 0h1v1h-1zM5 0h1v1h-1zM0 1h1v1h-1zM4 1h3v1h-3zM24 1h1v1h-1zM0 2h1v1h-1zM4 2h2v1h-2zM11 2h1v1h-1zM17 2h3v1h-3zM5 3h1v1h-1zM20 3h3v1h-3zM2 4h1v1h-1zM1 5h1v1h-1zM4 5h1v1h-1zM9 5h1v1h-1zM19 5h1v1h-1zM23 5h1v1h-1zM1 6h1v1h-1zM4 6h2v1h-2zM18 6h1v1h-1zM4 7h2v1h-2zM9 7h1v1h-1zM18 7h5v1h-5zM24 7h1v1h-1zM5 8h1v1h-1zM9 8h1v1h-1zM18 8h1v1h-1zM20 8h5v1h-5zM0 9h2v1h-2zM21 9h4v1h-4zM1 10h2v1h-2zM4 10h1v1h-1zM10 10h1v1h-1zM22 10h2v1h-2zM1 11h4v1h-4zM16 11h3v1h-3zM22 11h3v1h-3zM1 12h1v1h-1zM9 12h1v1h-1zM15 12h1v1h-1zM23 12h1v1h-1zM1 13h1v1h-1zM5 13h1v1h-1zM8 13h1v1h-1zM18 13h1v1h-1zM0 14h1v1h-1zM5 14h1v1h-1zM15 14h1v1h-1zM15 15h2v1h-2zM18 15h2v1h-2zM22 15h1v1h-1zM1 16h1v1h-1zM8 16h1v1h-1zM13 16h1v1h-1zM15 16h5v1h-5zM24 16h1v1h-1zM0 17h1v1h-1zM2 17h1v1h-1zM4 17h1v1h-1zM8 17h1v1h-1zM13 17h1v1h-1zM16 17h1v1h-1zM18 17h1v1h-1zM20 17h1v1h-1zM3 18h2v1h-2zM7 18h2v1h-2zM14 18h1v1h-1zM19 18h1v1h-1zM22 18h2v1h-2zM3 19h1v1h-1zM5 19h1v1h-1zM14 19h3v1h-3zM22 19h3v1h-3zM1 20h1v1h-1zM14 20h4v1h-4zM23 20h2v1h-2zM1 21h1v1h-1zM7 21h1v1h-1zM14 21h3v1h-3zM23 21h2v1h-2zM1 22h2v1h-2zM14 22h3v1h-3zM18 22h1v1h-1zM9 23h2v1h-2zM12 23h1v1h-1zM17 23h2v1h-2zM0 24h1v1h-1zM4 24h1v1h-1zM14 24h1v1h-1zM23 24h1v1h-1z"/><path fill="#a3da36" d="M9 0h3v1h-3zM13 0h3v1h-3zM7 1h4v1h-4zM16 1h1v1h-1zM18 1h1v1h-1zM6 2h2v1h-2zM9 2h2v1h-2zM24 2h1v1h-1zM6 3h1v1h-1zM10 3h1v1h-1zM18 3h1v1h-1zM23 3h2v1h-2zM13 4h1v1h-1zM15 4h1v1h-1zM2 5h1v1h-1zM8 5h1v1h-1zM11 5h2v1h-2zM21 5h1v1h-1zM8 6h5v1h-5zM16 6h1v1h-1zM10 7h2v1h-2zM15 7h1v1h-1zM0 8h2v1h-2zM10 8h3v1h-3zM14 8h1v1h-1zM11 9h5v1h-5zM17 9h2v1h-2zM11 10h1v1h-1zM14 10h5v1h-5zM11 11h1v1h-1zM15 11h1v1h-1zM19 11h1v1h-1zM19 12h2v1h-2zM23 13h1v1h-1zM1 14h1v1h-1zM10 14h1v1h-1zM12 14h1v1h-1zM14 14h1v1h-1zM19 14h1v1h-1zM22 14h3v1h-3zM0 15h3v1h-3zM12 15h1v1h-1zM0 16h1v1h-1zM12 16h1v1h-1zM20 16h1v1h-1zM3 17h1v1h-1zM7 17h1v1h-1zM10 17h1v1h-1zM19 17h1v1h-1zM22 17h3v1h-3zM5 18h2v1h-2zM9 18h2v1h-2zM15 18h1v1h-1zM20 18h2v1h-2zM24 18h1v1h-1zM0 19h1v1h-1zM4 19h1v1h-1zM6 19h1v1h-1zM9 19h2v1h-2zM19 19h1v1h-1zM0 20h1v1h-1zM4 20h2v1h-2zM21 20h1v1h-1zM0 21h1v1h-1zM0 22h1v1h-1zM5 22h1v1h-1zM7 22h1v1h-1zM10 22h1v1h-1zM24 22h1v1h-1zM1 23h2v1h-2zM5 23h4v1h-4zM13 23h1v1h-1zM24 23h1v1h-1zM1 24h1v1h-1zM5 24h2v1h-2zM9 24h1v1h-1zM12 24h2v1h-2zM15 24h2v1h-2zM18 24h1v1h-1zM22 24h1v1h-1zM24 24h1v1h-1z"/><path fill="#e4e427" d="M16 0h1v1h-1zM17 1h1v1h-1zM19 3h1v1h-1zM14 4h1v1h-1zM18 4h2v1h-2zM22 4h2v1h-2zM14 5h1v1h-1zM22 5h1v1h-1zM20 9h1v1h-1zM20 10h2v1h-2zM12 11h2v1h-2zM11 12h1v1h-1zM13 12h2v1h-2zM10 13h1v1h-1zM13 13h2v1h-2zM11 14h1v1h-1zM13 14h1v1h-1zM13 15h1v1h-1zM15 17h1v1h-1zM21 17h1v1h-1zM12 18h1v1h-1zM16 18h3v1h-3zM17 19h2v1h-2zM6 20h1v1h-1zM20 20h1v1h-1zM5 21h2v1h-2zM2 24h2v1h-2zM7 24h1v1h-1zM10 24h1v1h-1z"/><path fill="#c7e02a" d="M8 2h1v1h-1zM7 3h3v1h-3zM8 4h2v1h-2zM20 4h2v1h-2zM13 5h1v1h-1zM15 5h1v1h-1zM13 6h3v1h-3zM12 7h3v1h-3zM13 8h1v1h-1zM12 10h2v1h-2zM19 10h1v1h-1zM9 11h2v1h-2zM14 11h1v1h-1zM20 11h2v1h-2zM10 12h1v1h-1zM22 12h1v1h-1zM19 13h4v1h-4zM2 14h1v1h-1zM21 16h2v1h-2zM6 22h1v1h-1zM8 24h1v1h-1z"/><path fill="#fde725" d="M17 0h1v1h-1zM12 12h1v1h-1zM11 13h2v1h-2zM11 17h2v1h-2zM11 18h1v1h-1zM20 19h2v1h-2zM20 23h2v1h-2zM11 24h1v1h-1zM20 24h2v1h-2z"/></g></g><path d="M646.5 368.5v-5.56M646.5 227.5v5.56M643.5 365.5h5.56M785.5 365.5h-5.56M674.5 368.5v-5.56M674.5 227.5v5.56M643.5 337.5h5.56M785.5 337.5h-5.56M703.5 368.5v-5.56M703.5 227.5v5.56M643.5 309.5h5.56M785.5 309.5h-5.56M731.5 368.5v-5.56M731.5 227.5v5.56M643.5 280.5h5.56M785.5 280.5h-5.56M760.5 368.5v-5.56M760.5 227.5v5.56M643.5 252.5h5.56M785.5 252.5h-5.56" stroke="#000" stroke-width="1" fill="none"/><rect x="643.5" y="227.5" width="142" height="141" fill="none" stroke="#000" stroke-width="1"/><text x="641.09" y="387.60" font-size="17.00" textLength="10.23" lengthAdjust="spacingAndGlyphs">0</text><text x="627.84" y="369.60" font-size="17.00" textLength="10.23" lengthAdjust="spacingAndGlyphs">0</text><text x="669.17" y="387.60" font-size="17.00" textLength="10.23" lengthAdjust="spacingAndGlyphs">5</text><text x="628.17" y="341.60" font-size="17.00" textLength="10.23" lengthAdjust="spacingAndGlyphs">5</text><text x="692.62" y="387.60" font-size="17.00" textLength="20.47" lengthAdjust="spacingAndGlyphs">10</text><text x="617.60" y="313.60" font-size="17.00" textLength="20.47" lengthAdjust="spacingAndGlyphs">10</text><text x="720.79" y="387.60" font-size="17.00" textLength="20.47" lengthAdjust="spacingAndGlyphs">15</text><text x="617.94" y="284.60" font-size="17.00" textLength="20.47" lengthAdjust="spacingAndGlyphs">15</text><text x="749.91" y="387.60" font-size="17.00" textLength="20.47" lengthAdjust="spacingAndGlyphs">20</text><text x="617.60" y="256.60" font-size="17.00" textLength="20.47" lengthAdjust="spacingAndGlyphs">20</text><text x="683.21" y="219.70" font-size="20.40" textLength="61.57" lengthAdjust="spacingAndGlyphs">f160w</text><clipPath id="c8"><rect x="845.5" y="32.5" width="336" height="336"/></clipPath><g clip-path="url(#c8)"><g transform="translate(844.6,31.4) scale(13.4700)" shape-rendering="crispEdges"><path fill="#440154" d="M8 1h1v1h-1zM21 3h1v1h-1zM13 6h1v1h-1zM2 10h1v1h-1zM2 14h1v1h-1zM4 15h1v1h-1zM3 17h1v1h-1zM5 19h1v1h-1z"/><path fill="#482878" d="M7 16h1v1h-1z"/><path fill="#3e4a89" d="M19 1h2v1h-2zM23 1h1v1h-1zM11 4h1v1h-1zM4 6h1v1h-1zM1 10h1v1h-1zM6 10h1v1h-1zM4 14h1v1h-1zM18 14h1v1h-1zM15 18h1v1h-1zM6 19h1v1h-1zM20 19h1v1h-1zM24 19h1v1h-1zM0 22h1v1h-1z"/><path fill="#31688e" d="M1 0h1v1h-1zM18 1h1v1h-1zM15 2h1v1h-1zM17 2h1v1h-1zM3 3h1v1h-1zM1 4h1v1h-1zM6 4h1v1h-1zM3 14h1v1h-1zM22 14h1v1h-1zM11 17h1v1h-1zM5 20h2v1h-2zM1 21h1v1h-1zM7 21h1v1h-1zM10 24h1v1h-1z"/><path fill="#26828e" d="M8 3h1v1h-1zM19 3h1v1h-1zM2 4h1v1h-1zM7 4h1v1h-1zM18 4h1v1h-1zM10 5h2v1h-2zM10 6h1v1h-1zM6 8h1v1h-1zM5 10h1v1h-1zM9 10h1v1h-1zM1 12h1v1h-1zM4 12h1v1h-1zM21 13h1v1h-1zM17 16h1v1h-1zM6 18h1v1h-1zM16 18h1v1h-1zM19 18h1v1h-1zM2 19h1v1h-1zM23 19h1v1h-1zM12 20h1v1h-1zM16 20h1v1h-1zM2 21h1v1h-1zM8 23h2v1h-2z"/><path fill="#1f9e89" d="M9 0h1v1h-1zM18 0h1v1h-1zM20 0h1v1h-1zM23 0h1v1h-1zM0 1h2v1h-2zM12 1h2v1h-2zM16 1h1v1h-1zM5 2h1v1h-1zM12 2h2v1h-2zM16 2h1v1h-1zM19 2h1v1h-1zM12 3h1v1h-1zM15 3h1v1h-1zM18 3h1v1h-1zM20 3h1v1h-1zM3 4h2v1h-2zM15 4h2v1h-2zM6 5h1v1h-1zM14 5h1v1h-1zM12 6h1v1h-1zM14 6h1v1h-1zM22 6h2v1h-2zM3 7h1v1h-1zM7 7h1v1h-1zM0 9h1v1h-1zM4 9h1v1h-1zM3 10h1v1h-1zM8 10h1v1h-1zM4 11h1v1h-1zM19 11h3v1h-3zM23 11h1v1h-1zM21 12h2v1h-2zM24 12h1v1h-1zM16 13h1v1h-1zM10 14h2v1h-2zM17 14h1v1h-1zM1 15h2v1h-2zM7 15h1v1h-1zM11 15h1v1h-1zM20 15h1v1h-1zM8 16h2v1h-2zM15 16h1v1h-1zM7 17h2v1h-2zM10 17h1v1h-1zM13 17h1v1h-1zM22 17h1v1h-1zM23 18h1v1h-1zM19 19h1v1h-1zM15 20h1v1h-1zM8 21h1v1h-1zM15 21h1v1h-1zM17 22h1v1h-1zM22 22h1v1h-1zM3 23h1v1h-1zM17 23h4v1h-4z"/><path fill="#35b779" d="M0 0h1v1h-1zM2 0h2v1h-2zM8 0h1v1h-1zM12 0h1v1h-1zM3 1h1v1h-1zM7 1h1v1h-1zM10 1h1v1h-1zM17 1h1v1h-1zM24 1h1v1h-1zM2 2h1v1h-1zM6 2h2v1h-2zM9 2h1v1h-1zM14 2h1v1h-1zM18 2h1v1h-1zM20 2h1v1h-1zM23 2h1v1h-1zM4 3h2v1h-2zM11 3h1v1h-1zM13 3h1v1h-1zM22 3h1v1h-1zM8 4h3v1h-3zM23 4h1v1h-1zM7 5h1v1h-1zM22 5h1v1h-1zM2 6h1v1h-1zM9 6h1v1h-1zM11 6h1v1h-1zM15 6h1v1h-1zM17 6h1v1h-1zM20 6h1v1h-1zM24 6h1v1h-1zM2 7h1v1h-1zM5 7h2v1h-2zM17 7h2v1h-2zM0 8h1v1h-1zM7 8h1v1h-1zM9 8h2v1h-2zM12 8h2v1h-2zM18 8h1v1h-1zM21 8h2v1h-2zM1 9h1v1h-1zM22 9h1v1h-1zM4 10h1v1h-1zM21 10h1v1h-1zM23 10h1v1h-1zM9 11h1v1h-1zM17 11h1v1h-1zM6 12h1v1h-1zM9 12h1v1h-1zM17 12h1v1h-1zM23 12h1v1h-1zM1 13h2v1h-2zM7 13h1v1h-1zM15 13h1v1h-1zM19 13h1v1h-1zM22 13h1v1h-1zM24 13h1v1h-1zM1 14h1v1h-1zM7 14h1v1h-1zM9 14h1v1h-1zM9 15h2v1h-2zM18 15h1v1h-1zM22 15h1v1h-1zM6 16h1v1h-1zM10 16h1v1h-1zM2 17h1v1h-1zM4 17h1v1h-1zM14 17h2v1h-2zM1 18h1v1h-1zM7 18h1v1h-1zM11 18h1v1h-1zM0 19h2v1h-2zM4 19h1v1h-1zM10 19h1v1h-1zM14 19h1v1h-1zM18 19h1v1h-1zM22 19h1v1h-1zM4 20h1v1h-1zM7 20h1v1h-1zM10 20h1v1h-1zM23 20h1v1h-1zM12 21h1v1h-1zM16 21h2v1h-2zM16 22h1v1h-1zM21 22h1v1h-1zM4 23h1v1h-1zM15 23h1v1h-1zM22 23h1v1h-1zM0 24h2v1h-2zM11 24h3v1h-3zM17 24h1v1h-1zM19 24h1v1h-1zM23 24h2v1h-2z"/><path fill="#6ece58" d="M5 0h1v1h-1zM10 0h2v1h-2zM16 0h2v1h-2zM19 0h1v1h-1zM22 0h1v1h-1zM24 0h1v1h-1zM6 1h1v1h-1zM11 1h1v1h-1zM14 1h2v1h-2zM0 2h2v1h-2zM4 2h1v1h-1zM8 2h1v1h-1zM10 2h1v1h-1zM22 2h1v1h-1zM24 2h1v1h-1zM6 3h2v1h-2zM9 3h1v1h-1zM14 3h1v1h-1zM16 3h1v1h-1zM23 3h1v1h-1zM0 4h1v1h-1zM5 4h1v1h-1zM12 4h2v1h-2zM19 4h1v1h-1zM24 4h1v1h-1zM0 5h3v1h-3zM4 5h2v1h-2zM9 5h1v1h-1zM12 5h1v1h-1zM15 5h1v1h-1zM23 5h1v1h-1zM3 6h1v1h-1zM5 6h2v1h-2zM8 6h1v1h-1zM16 6h1v1h-1zM19 6h1v1h-1zM21 6h1v1h-1zM8 7h1v1h-1zM12 7h1v1h-1zM22 7h3v1h-3zM2 8h1v1h-1zM8 8h1v1h-1zM2 9h2v1h-2zM5 9h1v1h-1zM9 9h2v1h-2zM19 9h1v1h-1zM21 9h1v1h-1zM0 10h1v1h-1zM14 10h7v1h-7zM24 10h1v1h-1zM5 11h1v1h-1zM8 11h1v1h-1zM11 11h1v1h-1zM18 11h1v1h-1zM22 11h1v1h-1zM0 12h1v1h-1zM5 12h1v1h-1zM7 12h2v1h-2zM18 12h2v1h-2zM4 13h1v1h-1zM6 13h1v1h-1zM8 13h2v1h-2zM11 13h1v1h-1zM14 13h1v1h-1zM17 13h2v1h-2zM20 13h1v1h-1zM5 14h2v1h-2zM8 14h1v1h-1zM13 14h2v1h-2zM16 14h1v1h-1zM3 15h1v1h-1zM6 15h1v1h-1zM12 15h3v1h-3zM16 15h2v1h-2zM19 15h1v1h-1zM21 15h1v1h-1zM23 15h2v1h-2zM2 16h1v1h-1zM11 16h1v1h-1zM13 16h1v1h-1zM16 16h1v1h-1zM22 16h3v1h-3zM1 17h1v1h-1zM5 17h2v1h-2zM12 17h1v1h-1zM16 17h6v1h-6zM2 18h1v1h-1zM4 18h2v1h-2zM9 18h1v1h-1zM12 18h3v1h-3zM17 18h2v1h-2zM21 18h2v1h-2zM3 19h1v1h-1zM7 19h1v1h-1zM9 19h1v1h-1zM11 19h3v1h-3zM15 19h1v1h-1zM17 19h1v1h-1zM21 19h1v1h-1zM3 20h1v1h-1zM8 20h1v1h-1zM11 20h1v1h-1zM13 20h2v1h-2zM19 20h3v1h-3zM24 20h1v1h-1zM0 21h1v1h-1zM3 21h2v1h-2zM11 21h1v1h-1zM14 21h1v1h-1zM19 21h1v1h-1zM22 21h3v1h-3zM2 22h1v1h-1zM4 22h4v1h-4zM11 22h3v1h-3zM15 22h1v1h-1zM24 22h1v1h-1zM0 23h2v1h-2zM6 23h2v1h-2zM11 23h1v1h-1zM16 23h1v1h-1zM21 23h1v1h-1zM23 23h2v1h-2zM3 24h1v1h-1zM9 24h1v1h-1zM14 24h3v1h-3zM18 24h1v1h-1zM20 24h1v1h-1zM22 24h1v1h-1z"/><path fill="#a3da36" d="M4 0h1v1h-1zM6 0h2v1h-2zM13 0h3v1h-3zM21 0h1v1h-1zM2 1h1v1h-1zM4 1h2v1h-2zM9 1h1v1h-1zM21 1h2v1h-2zM3 2h1v1h-1zM11 2h1v1h-1zM21 2h1v1h-1zM0 3h3v1h-3zM17 3h1v1h-1zM14 4h1v1h-1zM17 4h1v1h-1zM20 4h3v1h-3zM3 5h1v1h-1zM8 5h1v1h-1zM13 5h1v1h-1zM16 5h1v1h-1zM18 5h2v1h-2zM21 5h1v1h-1zM24 5h1v1h-1zM0 6h2v1h-2zM18 6h1v1h-1zM0 7h2v1h-2zM9 7h3v1h-3zM15 7h2v1h-2zM19 7h3v1h-3zM1 8h1v1h-1zM15 8h3v1h-3zM19 8h2v1h-2zM17 9h2v1h-2zM20 9h1v1h-1zM22 10h1v1h-1zM0 11h1v1h-1zM2 11h1v1h-1zM7 11h1v1h-1zM14 11h1v1h-1zM16 11h1v1h-1zM24 11h1v1h-1zM2 12h1v1h-1zM10 12h1v1h-1zM14 12h1v1h-1zM20 12h1v1h-1zM10 13h1v1h-1zM13 13h1v1h-1zM23 13h1v1h-1zM0 14h1v1h-1zM19 14h3v1h-3zM23 14h2v1h-2zM5 15h1v1h-1zM8 15h1v1h-1zM15 15h1v1h-1zM0 16h1v1h-1zM3 16h1v1h-1zM5 16h1v1h-1zM12 16h1v1h-1zM14 16h1v1h-1zM18 16h2v1h-2zM21 16h1v1h-1zM0 17h1v1h-1zM9 17h1v1h-1zM23 17h2v1h-2zM0 18h1v1h-1zM8 18h1v1h-1zM10 18h1v1h-1zM24 18h1v1h-1zM16 19h1v1h-1zM2 20h1v1h-1zM9 20h1v1h-1zM17 20h2v1h-2zM5 21h2v1h-2zM10 21h1v1h-1zM13 21h1v1h-1zM20 21h1v1h-1zM1 22h1v1h-1zM3 22h1v1h-1zM8 22h2v1h-2zM18 22h3v1h-3zM5 23h1v1h-1zM10 23h1v1h-1zM2 24h1v1h-1zM21 24h1v1h-1z"/><path fill="#e4e427" d="M10 3h1v1h-1zM24 3h1v1h-1zM17 5h1v1h-1zM4 8h1v1h-1zM11 8h1v1h-1zM14 8h1v1h-1zM6 9h1v1h-1zM11 9h1v1h-1zM13 9h1v1h-1zM15 9h1v1h-1zM24 9h1v1h-1zM12 10h1v1h-1zM1 11h1v1h-1zM13 11h1v1h-1zM11 12h1v1h-1zM1 16h1v1h-1zM4 16h1v1h-1zM20 16h1v1h-1zM8 19h1v1h-1zM0 20h1v1h-1zM18 21h1v1h-1zM10 22h1v1h-1zM14 22h1v1h-1zM12 23h3v1h-3zM5 24h1v1h-1zM7 24h1v1h-1z"/><path fill="#c7e02a" d="M20 5h1v1h-1zM7 6h1v1h-1zM4 7h1v1h-1zM14 7h1v1h-1zM3 8h1v1h-1zM5 8h1v1h-1zM23 8h2v1h-2zM8 9h1v1h-1zM12 9h1v1h-1zM16 9h1v1h-1zM23 9h1v1h-1zM7 10h1v1h-1zM10 10h1v1h-1zM13 10h1v1h-1zM3 11h1v1h-1zM6 11h1v1h-1zM10 11h1v1h-1zM3 12h1v1h-1zM13 12h1v1h-1zM0 13h1v1h-1zM3 13h1v1h-1zM15 14h1v1h-1zM3 18h1v1h-1zM20 18h1v1h-1zM1 20h1v1h-1zM22 20h1v1h-1zM9 21h1v1h-1zM21 21h1v1h-1zM23 22h1v1h-1zM2 23h1v1h-1zM4 24h1v1h-1zM6 24h1v1h-1z"/><path fill="#fde725" d="M13 7h1v1h-1zM7 9h1v1h-1zM14 9h1v1h-1zM11 10h1v1h-1zM12 11h1v1h-1zM15 11h1v1h-1zM12 12h1v1h-1zM15 12h2v1h-2zM5 13h1v1h-1zM12 13h1v1h-1zM12 14h1v1h-1zM0 15h1v1h-1zM8 24h1v1h-1z"/></g></g><path d="M851.5 368.5v-5.56M851.5 32.5v5.56M845.5 362.5h5.56M1181.5 362.5h-5.56M919.5 368.5v-5.56M919.5 32.5v5.56M845.5 294.5h5.56M1181.5 294.5h-5.56M986.5 368.5v-5.56M986.5 32.5v5.56M845.5 227.5h5.56M1181.5 227.5h-5.56M1053.5 368.5v-5.56M1053.5 32.5v5.56M845.5 160.5h5.56M1181.5 160.5h-5.56M1121.5 368.5v-5.56M1121.5 32.5v5.56M845.5 92.5h5.56M1181.5 92.5h-5.56" stroke="#000" stroke-width="1" fill="none"/><rect x="845.5" y="32.5" width="336" height="336" fill="none" stroke="#000" stroke-width="1"/><text x="846.09" y="387.60" font-size="17.00" textLength="10.23" lengthAdjust="spacingAndGlyphs">0</text><text x="828.24" y="366.60" font-size="17.00" textLength="10.23" lengthAdjust="spacingAndGlyphs">0</text><text x="914.17" y="387.60" font-size="17.00" textLength="10.23" lengthAdjust="spacingAndGlyphs">5</text><text x="828.57" y="298.60" font-size="17.00" textLength="10.23" lengthAdjust="spacingAndGlyphs">5</text><text x="975.62" y="387.60" font-size="17.00" textLength="20.47" lengthAdjust="spacingAndGlyphs">10</text><text x="818.00" y="231.60" font-size="17.00" textLength="20.47" lengthAdjust="spacingAndGlyphs">10</text><text x="1042.79" y="387.60" font-size="17.00" textLength="20.47" lengthAdjust="spacingAndGlyphs">15</text><text x="818.34" y="164.60" font-size="17.00" textLength="20.47" lengthAdjust="spacingAndGlyphs">15</text><text x="1110.91" y="387.60" font-size="17.00" textLength="20.47" lengthAdjust="spacingAndGlyphs">20</text><text x="818.00" y="96.60" font-size="17.00" textLength="20.47" lengthAdjust="spacingAndGlyphs">20</text><text x="964.00" y="24.70" font-size="20.40" textLength="96.81" lengthAdjust="spacingAndGlyphs">ACS Total</text><clipPath id="c9"><rect x="1244.5" y="32.5" width="336" height="336"/></clipPath><g clip-path="url(#c9)"><g transform="translate(1243.9,31.4) scale(13.4700)" shape-rendering="crispEdges"><path fill="#440154" d="M18 0h1v1h-1zM10 1h3v1h-3zM18 1h1v1h-1zM22 1h1v1h-1zM0 3h1v1h-1zM3 3h1v1h-1zM0 4h1v1h-1zM3 4h1v1h-1zM17 4h1v1h-1zM17 5h1v1h-1zM0 7h1v1h-1z"/><path fill="#482878" d="M17 0h1v1h-1zM2 3h1v1h-1zM4 3h1v1h-1zM2 4h1v1h-1zM4 4h1v1h-1zM0 5h1v1h-1zM3 5h1v1h-1zM6 5h1v1h-1zM1 7h1v1h-1z"/><path fill="#3e4a89" d="M1 0h1v1h-1zM6 0h1v1h-1zM9 1h1v1h-1zM1 2h1v1h-1zM11 2h1v1h-1zM22 3h1v1h-1zM13 5h1v1h-1zM18 5h1v1h-1zM0 8h1v1h-1zM5 12h1v1h-1z"/><path fill="#31688e" d="M0 0h1v1h-1zM2 0h2v1h-2zM12 0h1v1h-1zM19 0h3v1h-3zM23 0h1v1h-1zM0 1h2v1h-2zM5 1h1v1h-1zM15 1h1v1h-1zM23 1h1v1h-1zM2 2h1v1h-1zM5 2h1v1h-1zM13 2h3v1h-3zM18 2h1v1h-1zM24 2h1v1h-1zM1 3h1v1h-1zM5 3h1v1h-1zM24 3h1v1h-1zM5 4h2v1h-2zM12 4h1v1h-1zM18 4h1v1h-1zM23 4h1v1h-1zM2 5h1v1h-1zM12 5h1v1h-1zM3 6h1v1h-1zM15 8h1v1h-1zM4 10h1v1h-1zM4 11h1v1h-1zM4 12h1v1h-1zM6 12h1v1h-1zM3 13h3v1h-3zM22 15h1v1h-1zM1 19h1v1h-1z"/><path fill="#26828e" d="M10 0h1v1h-1zM16 0h1v1h-1zM4 1h1v1h-1zM8 1h1v1h-1zM14 1h1v1h-1zM24 1h1v1h-1zM3 2h1v1h-1zM16 2h2v1h-2zM17 3h2v1h-2zM21 3h1v1h-1zM7 4h1v1h-1zM22 4h1v1h-1zM24 4h1v1h-1zM7 5h1v1h-1zM20 5h1v1h-1zM4 6h2v1h-2zM18 6h1v1h-1zM3 7h1v1h-1zM9 7h1v1h-1zM19 7h1v1h-1zM1 8h1v1h-1zM3 8h1v1h-1zM7 8h1v1h-1zM24 9h1v1h-1zM0 10h1v1h-1zM5 10h1v1h-1zM7 10h1v1h-1zM0 11h1v1h-1zM6 11h1v1h-1zM7 12h1v1h-1zM21 12h1v1h-1zM0 13h1v1h-1zM21 13h1v1h-1zM0 14h2v1h-2zM6 14h3v1h-3zM16 14h2v1h-2zM21 14h1v1h-1zM1 15h1v1h-1zM7 15h2v1h-2zM17 15h1v1h-1zM1 16h1v1h-1zM4 16h1v1h-1zM6 16h2v1h-2zM9 16h2v1h-2zM0 17h2v1h-2zM15 17h1v1h-1zM15 18h1v1h-1zM11 19h1v1h-1zM16 19h1v1h-1zM7 20h1v1h-1zM19 20h1v1h-1zM19 21h1v1h-1zM19 22h1v1h-1zM22 23h1v1h-1z"/><path fill="#1f9e89" d="M24 0h1v1h-1zM3 1h1v1h-1zM19 1h2v1h-2zM6 2h4v1h-4zM19 2h1v1h-1zM23 2h1v1h-1zM10 3h1v1h-1zM14 3h2v1h-2zM19 3h2v1h-2zM8 4h4v1h-4zM15 4h1v1h-1zM19 4h3v1h-3zM8 5h1v1h-1zM14 5h1v1h-1zM16 5h1v1h-1zM21 5h3v1h-3zM10 6h5v1h-5zM17 6h1v1h-1zM19 6h1v1h-1zM21 6h1v1h-1zM23 6h1v1h-1zM16 7h1v1h-1zM21 7h2v1h-2zM2 8h1v1h-1zM5 8h2v1h-2zM8 8h2v1h-2zM17 8h1v1h-1zM24 8h1v1h-1zM0 9h2v1h-2zM3 9h1v1h-1zM7 9h1v1h-1zM16 9h1v1h-1zM18 9h1v1h-1zM20 9h1v1h-1zM3 10h1v1h-1zM9 10h1v1h-1zM16 10h2v1h-2zM19 10h2v1h-2zM22 10h1v1h-1zM1 11h1v1h-1zM17 11h2v1h-2zM20 11h5v1h-5zM1 12h1v1h-1zM17 12h2v1h-2zM22 12h3v1h-3zM2 13h1v1h-1zM8 13h1v1h-1zM17 13h2v1h-2zM20 13h1v1h-1zM24 13h1v1h-1zM9 14h1v1h-1zM20 14h1v1h-1zM23 14h1v1h-1zM6 15h1v1h-1zM9 15h1v1h-1zM16 15h1v1h-1zM20 15h1v1h-1zM24 15h1v1h-1zM0 16h1v1h-1zM17 16h2v1h-2zM20 16h1v1h-1zM22 16h2v1h-2zM2 17h1v1h-1zM5 17h2v1h-2zM8 17h2v1h-2zM16 17h1v1h-1zM18 17h1v1h-1zM22 17h2v1h-2zM2 18h1v1h-1zM10 18h1v1h-1zM14 18h1v1h-1zM16 18h1v1h-1zM21 18h1v1h-1zM7 19h4v1h-4zM15 19h1v1h-1zM22 19h1v1h-1zM0 20h1v1h-1zM4 20h3v1h-3zM12 20h2v1h-2zM18 20h1v1h-1zM22 20h1v1h-1zM24 20h1v1h-1zM16 21h2v1h-2zM20 21h1v1h-1zM22 21h3v1h-3zM11 22h2v1h-2zM14 22h2v1h-2zM20 22h1v1h-1zM24 22h1v1h-1zM14 23h2v1h-2zM18 23h1v1h-1zM20 23h1v1h-1zM23 23h2v1h-2zM14 24h1v1h-1z"/><path fill="#35b779" d="M20 2h1v1h-1zM8 3h2v1h-2zM11 5h1v1h-1zM16 6h1v1h-1zM10 7h5v1h-5zM17 7h1v1h-1zM20 7h1v1h-1zM14 8h1v1h-1zM22 8h1v1h-1zM8 9h1v1h-1zM10 9h1v1h-1zM15 9h1v1h-1zM22 9h2v1h-2zM8 10h1v1h-1zM15 10h1v1h-1zM8 11h1v1h-1zM16 11h1v1h-1zM19 11h1v1h-1zM2 12h1v1h-1zM8 12h1v1h-1zM16 12h1v1h-1zM19 12h1v1h-1zM10 14h1v1h-1zM15 14h1v1h-1zM19 14h1v1h-1zM10 15h1v1h-1zM13 15h2v1h-2zM18 15h2v1h-2zM12 16h1v1h-1zM14 16h3v1h-3zM10 17h1v1h-1zM12 17h1v1h-1zM3 18h1v1h-1zM11 18h1v1h-1zM17 18h3v1h-3zM22 18h1v1h-1zM13 19h2v1h-2zM18 19h2v1h-2zM21 19h1v1h-1zM24 19h1v1h-1zM10 20h1v1h-1zM20 20h2v1h-2zM3 21h6v1h-6zM10 21h2v1h-2zM21 21h1v1h-1zM2 22h5v1h-5zM8 22h1v1h-1zM13 22h1v1h-1zM17 22h2v1h-2zM5 23h2v1h-2zM12 23h1v1h-1zM16 23h2v1h-2zM13 24h1v1h-1zM16 24h1v1h-1zM19 24h1v1h-1zM21 24h4v1h-4z"/><path fill="#6ece58" d="M11 8h3v1h-3zM11 9h2v1h-2zM14 9h1v1h-1zM10 10h1v1h-1zM15 11h1v1h-1zM9 13h1v1h-1zM14 14h1v1h-1zM11 15h2v1h-2zM11 17h1v1h-1zM5 18h2v1h-2zM20 18h1v1h-1zM23 18h1v1h-1zM20 19h1v1h-1zM0 21h1v1h-1zM0 22h1v1h-1zM0 23h3v1h-3zM7 23h4v1h-4zM0 24h1v1h-1zM5 24h1v1h-1zM12 24h1v1h-1z"/><path fill="#a3da36" d="M13 9h1v1h-1zM14 10h1v1h-1zM9 11h1v1h-1zM9 12h1v1h-1zM15 12h1v1h-1zM10 13h1v1h-1zM15 13h1v1h-1zM11 14h3v1h-3zM1 24h1v1h-1zM3 24h1v1h-1zM11 24h1v1h-1z"/><path fill="#e4e427" d="M11 10h2v1h-2zM11 11h1v1h-1zM14 11h1v1h-1zM11 12h1v1h-1zM14 13h1v1h-1z"/><path fill="#433980" d="M21 1h1v1h-1zM0 2h1v1h-1zM4 9h1v1h-1z"/><path fill="#38598c" d="M22 0h1v1h-1zM6 1h1v1h-1zM13 1h1v1h-1zM17 1h1v1h-1zM10 2h1v1h-1zM12 2h1v1h-1zM21 2h1v1h-1zM12 3h1v1h-1zM5 5h1v1h-1zM0 6h1v1h-1zM6 6h2v1h-2zM7 7h2v1h-2zM16 8h1v1h-1zM5 9h1v1h-1zM4 14h2v1h-2z"/><path fill="#2c758e" d="M5 0h1v1h-1zM7 0h3v1h-3zM13 0h3v1h-3zM2 1h1v1h-1zM16 1h1v1h-1zM4 2h1v1h-1zM22 2h1v1h-1zM11 3h1v1h-1zM23 3h1v1h-1zM1 4h1v1h-1zM13 4h1v1h-1zM16 4h1v1h-1zM4 5h1v1h-1zM2 6h1v1h-1zM8 6h1v1h-1zM2 7h1v1h-1zM15 7h1v1h-1zM4 8h1v1h-1zM6 9h1v1h-1zM6 10h1v1h-1zM7 11h1v1h-1zM6 13h2v1h-2zM3 14h1v1h-1zM3 15h2v1h-2zM3 16h1v1h-1zM0 18h2v1h-2zM3 20h1v1h-1z"/><path fill="#22908c" d="M4 0h1v1h-1zM11 0h1v1h-1zM7 1h1v1h-1zM6 3h2v1h-2zM13 3h1v1h-1zM16 3h1v1h-1zM1 5h1v1h-1zM9 5h1v1h-1zM19 5h1v1h-1zM24 5h1v1h-1zM1 6h1v1h-1zM9 6h1v1h-1zM22 6h1v1h-1zM24 6h1v1h-1zM4 7h1v1h-1zM6 7h1v1h-1zM18 7h1v1h-1zM18 8h2v1h-2zM19 9h1v1h-1zM1 10h2v1h-2zM18 10h1v1h-1zM24 10h1v1h-1zM3 11h1v1h-1zM5 11h1v1h-1zM0 12h1v1h-1zM3 12h1v1h-1zM20 12h1v1h-1zM1 13h1v1h-1zM22 13h2v1h-2zM2 14h1v1h-1zM22 14h1v1h-1zM24 14h1v1h-1zM0 15h1v1h-1zM2 15h1v1h-1zM5 15h1v1h-1zM21 15h1v1h-1zM23 15h1v1h-1zM2 16h1v1h-1zM5 16h1v1h-1zM8 16h1v1h-1zM21 16h1v1h-1zM14 17h1v1h-1zM21 17h1v1h-1zM0 19h1v1h-1zM2 19h1v1h-1zM12 19h1v1h-1zM1 20h2v1h-2zM8 20h1v1h-1zM15 20h3v1h-3zM23 20h1v1h-1zM1 21h2v1h-2zM14 21h2v1h-2zM19 23h1v1h-1z"/><path fill="#2aaa81" d="M14 4h1v1h-1zM10 5h1v1h-1zM15 5h1v1h-1zM15 6h1v1h-1zM20 6h1v1h-1zM5 7h1v1h-1zM23 7h2v1h-2zM20 8h2v1h-2zM23 8h1v1h-1zM2 9h1v1h-1zM9 9h1v1h-1zM17 9h1v1h-1zM21 9h1v1h-1zM21 10h1v1h-1zM23 10h1v1h-1zM2 11h1v1h-1zM16 13h1v1h-1zM19 13h1v1h-1zM18 14h1v1h-1zM11 16h1v1h-1zM13 16h1v1h-1zM19 16h1v1h-1zM24 16h1v1h-1zM3 17h2v1h-2zM7 17h1v1h-1zM13 17h1v1h-1zM17 17h1v1h-1zM24 17h1v1h-1zM8 18h2v1h-2zM12 18h2v1h-2zM3 19h2v1h-2zM17 19h1v1h-1zM11 20h1v1h-1zM14 20h1v1h-1zM12 21h2v1h-2zM18 21h1v1h-1zM1 22h1v1h-1zM16 22h1v1h-1zM21 22h3v1h-3zM13 23h1v1h-1zM21 23h1v1h-1zM15 24h1v1h-1zM17 24h2v1h-2z"/><path fill="#52c268" d="M10 8h1v1h-1zM15 15h1v1h-1zM19 17h2v1h-2zM4 18h1v1h-1zM7 18h1v1h-1zM24 18h1v1h-1zM5 19h2v1h-2zM23 19h1v1h-1zM9 20h1v1h-1zM9 21h1v1h-1zM7 22h1v1h-1zM9 22h2v1h-2zM3 23h2v1h-2zM11 23h1v1h-1zM4 24h1v1h-1zM20 24h1v1h-1z"/><path fill="#8ad446" d="M6 24h5v1h-5z"/><path fill="#c7e02a" d="M13 10h1v1h-1zM10 11h1v1h-1zM10 12h1v1h-1zM11 13h1v1h-1zM2 24h1v1h-1z"/><path fill="#fde725" d="M12 11h2v1h-2zM12 12h3v1h-3zM12 13h2v1h-2z"/></g></g><path d="M1251.5 368.5v-5.56M1251.5 32.5v5.56M1244.5 362.5h5.56M1580.5 362.5h-5.56M1318.5 368.5v-5.56M1318.5 32.5v5.56M1244.5 294.5h5.56M1580.5 294.5h-5.56M1385.5 368.5v-5.56M1385.5 32.5v5.56M1244.5 227.5h5.56M1580.5 227.5h-5.56M1453.5 368.5v-5.56M1453.5 32.5v5.56M1244.5 160.5h5.56M1580.5 160.5h-5.56M1520.5 368.5v-5.56M1520.5 32.5v5.56M1244.5 92.5h5.56M1580.5 92.5h-5.56" stroke="#000" stroke-width="1" fill="none"/><rect x="1244.5" y="32.5" width="336" height="336" fill="none" stroke="#000" stroke-width="1"/><text x="1246.09" y="387.60" font-size="17.00" textLength="10.23" lengthAdjust="spacingAndGlyphs">0</text><text x="1227.24" y="366.60" font-size="17.00" textLength="10.23" lengthAdjust="spacingAndGlyphs">0</text><text x="1313.17" y="387.60" font-size="17.00" textLength="10.23" lengthAdjust="spacingAndGlyphs">5</text><text x="1227.57" y="298.60" font-size="17.00" textLength="10.23" lengthAdjust="spacingAndGlyphs">5</text><text x="1374.62" y="387.60" font-size="17.00" textLength="20.47" lengthAdjust="spacingAndGlyphs">10</text><text x="1217.00" y="231.60" font-size="17.00" textLength="20.47" lengthAdjust="spacingAndGlyphs">10</text><text x="1442.79" y="387.60" font-size="17.00" textLength="20.47" lengthAdjust="spacingAndGlyphs">15</text><text x="1217.34" y="164.60" font-size="17.00" textLength="20.47" lengthAdjust="spacingAndGlyphs">15</text><text x="1509.91" y="387.60" font-size="17.00" textLength="20.47" lengthAdjust="spacingAndGlyphs">20</text><text x="1217.00" y="96.60" font-size="17.00" textLength="20.47" lengthAdjust="spacingAndGlyphs">20</text><text x="1342.01" y="24.70" font-size="20.40" textLength="140.59" lengthAdjust="spacingAndGlyphs">WFC3 IR Total</text>
</svg></body></html>
